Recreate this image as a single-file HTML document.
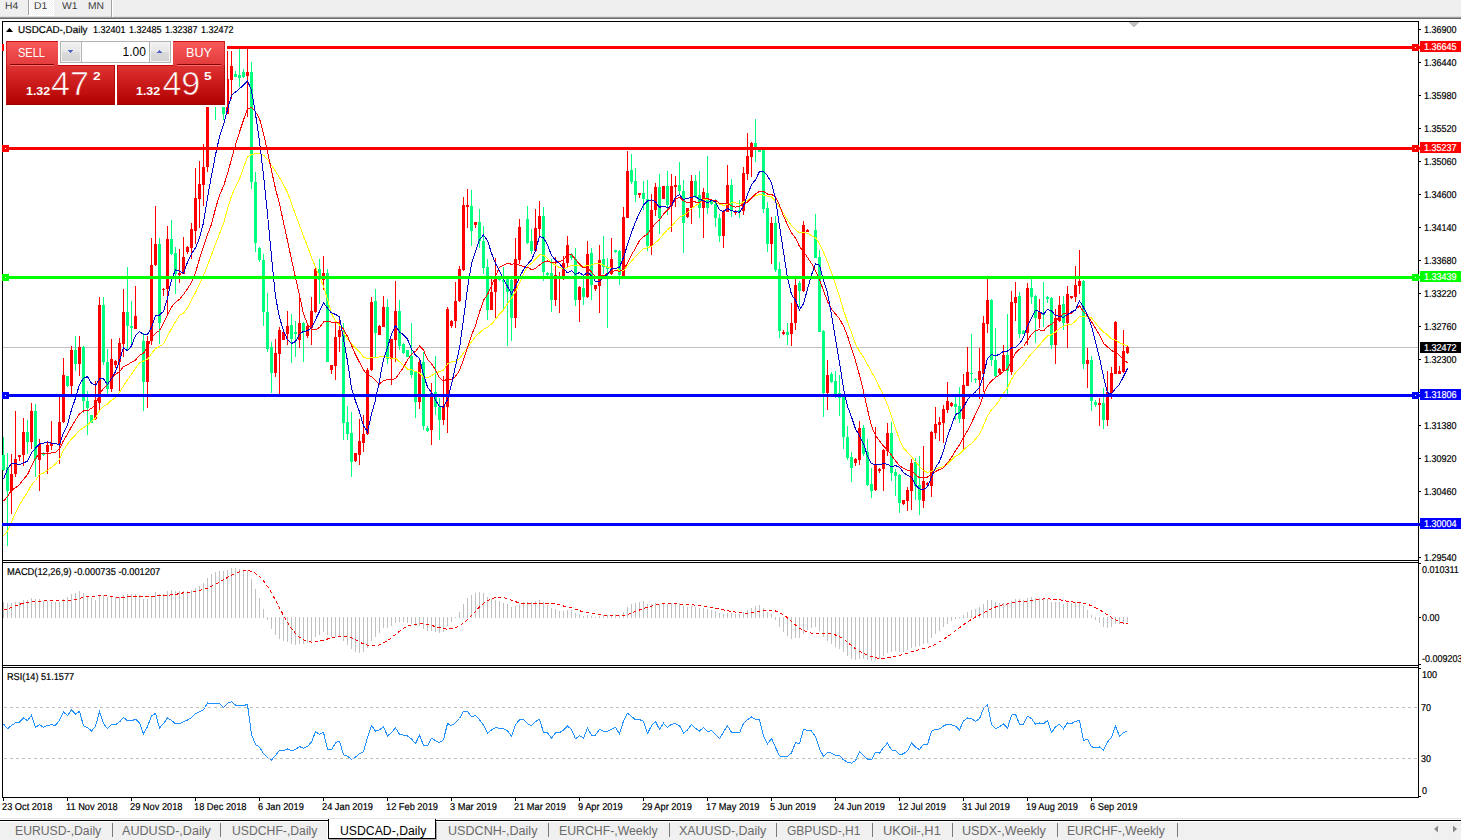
<!DOCTYPE html><html><head><meta charset="utf-8"><title>USDCAD</title><style>
*{box-sizing:border-box;margin:0;padding:0}
html,body{width:1461px;height:840px;overflow:hidden;background:#fff;font-family:"Liberation Sans",sans-serif;}
.abs{position:absolute}
.t{position:absolute;white-space:nowrap;line-height:1;color:#000}
.k{-webkit-text-stroke:0.2px currentColor;text-rendering:geometricPrecision}
</style></head><body><div class="abs" style="left:0;top:0;width:1461px;height:840px;overflow:hidden">
<div class="abs" style="left:0;top:0;width:1461px;height:17px;background:#efefef"></div>
<div class="abs" style="left:0;top:17px;width:1461px;height:1px;background:#9c9c9c"></div>
<div class="abs" style="left:0;top:18px;width:1461px;height:1px;background:#6a6a6a"></div>
<div class="abs" style="left:30px;top:0;width:23px;height:15px;background:repeating-conic-gradient(#ffffff 0% 25%,#f0f0f0 0% 50%) 0 0/2px 2px"></div>
<div class="abs" style="left:53px;top:0;width:1px;height:16px;background:#fff"></div>
<div class="abs" style="left:28px;top:15px;width:26px;height:1px;background:#fff"></div>
<div class="abs" style="left:0;top:16px;width:1461px;height:1px;background:#dedede"></div>
<div class="abs" style="left:28px;top:0;width:1px;height:15px;background:#a0a0a0"></div>
<div class="abs" style="left:29px;top:0;width:1px;height:15px;background:#fff"></div>
<div class="abs" style="left:111px;top:0;width:1px;height:17px;background:#a0a0a0"></div>
<div class="abs" style="left:112px;top:0;width:1px;height:17px;background:#fff"></div>
<div class="t" style="left:5.0px;top:2px;font-size:10px;color:#3c3c3c;text-rendering:geometricPrecision;transform:scaleX(1.03);transform-origin:0 0">H4</div>
<div class="t" style="left:34.0px;top:2px;font-size:10px;color:#3c3c3c;text-rendering:geometricPrecision;transform:scaleX(1.03);transform-origin:0 0">D1</div>
<div class="t" style="left:62.0px;top:2px;font-size:10px;color:#3c3c3c;text-rendering:geometricPrecision;transform:scaleX(1.03);transform-origin:0 0">W1</div>
<div class="t" style="left:88.0px;top:2px;font-size:10px;color:#3c3c3c;text-rendering:geometricPrecision;transform:scaleX(1.03);transform-origin:0 0">MN</div>
<svg class="abs" style="left:0;top:0" width="1461" height="840" viewBox="0 0 1461 840" shape-rendering="crispEdges">
<rect x="2" y="21" width="1417" height="1" fill="#000"/>
<rect x="2" y="21" width="1" height="777" fill="#000"/>
<rect x="1418" y="21" width="1" height="777" fill="#000"/>
<rect x="2" y="797" width="1417" height="1" fill="#000"/>
<rect x="2" y="560" width="1417" height="1" fill="#000"/>
<rect x="2" y="562" width="1417" height="1" fill="#000"/>
<rect x="3" y="561" width="1415" height="1" fill="#fff"/>
<rect x="2" y="665" width="1417" height="1" fill="#000"/>
<rect x="2" y="667" width="1417" height="1" fill="#000"/>
<rect x="3" y="666" width="1415" height="1" fill="#fff"/>
<rect x="3" y="347" width="1415" height="1" fill="#c0c0c0"/>
<rect x="3" y="437" width="1" height="34" fill="#00ff7f"/>
<rect x="2" y="455" width="3" height="15" fill="#00ff7f"/>
<rect x="7" y="453" width="1" height="93" fill="#00ff7f"/>
<rect x="6" y="467" width="3" height="24" fill="#00ff7f"/>
<rect x="11" y="454" width="1" height="60" fill="#ff0000"/>
<rect x="10" y="474" width="3" height="17" fill="#ff0000"/>
<rect x="15" y="411" width="1" height="66" fill="#ff0000"/>
<rect x="14" y="459" width="3" height="15" fill="#ff0000"/>
<rect x="19" y="455" width="1" height="6" fill="#ff0000"/>
<rect x="18" y="455" width="3" height="2" fill="#ff0000"/>
<rect x="23" y="418" width="1" height="48" fill="#ff0000"/>
<rect x="22" y="432" width="3" height="23" fill="#ff0000"/>
<rect x="27" y="420" width="1" height="34" fill="#00ff7f"/>
<rect x="26" y="432" width="3" height="10" fill="#00ff7f"/>
<rect x="31" y="403" width="1" height="46" fill="#ff0000"/>
<rect x="30" y="411" width="3" height="31" fill="#ff0000"/>
<rect x="35" y="404" width="1" height="73" fill="#00ff7f"/>
<rect x="34" y="411" width="3" height="48" fill="#00ff7f"/>
<rect x="39" y="439" width="1" height="52" fill="#ff0000"/>
<rect x="38" y="444" width="3" height="16" fill="#ff0000"/>
<rect x="43" y="452" width="1" height="4" fill="#00ff7f"/>
<rect x="42" y="453" width="3" height="2" fill="#00ff7f"/>
<rect x="47" y="442" width="1" height="32" fill="#ff0000"/>
<rect x="46" y="445" width="3" height="7" fill="#ff0000"/>
<rect x="51" y="421" width="1" height="29" fill="#ff0000"/>
<rect x="50" y="443" width="3" height="3" fill="#ff0000"/>
<rect x="59" y="397" width="1" height="67" fill="#ff0000"/>
<rect x="58" y="422" width="3" height="23" fill="#ff0000"/>
<rect x="63" y="358" width="1" height="65" fill="#ff0000"/>
<rect x="62" y="375" width="3" height="47" fill="#ff0000"/>
<rect x="67" y="376" width="1" height="11" fill="#00ff7f"/>
<rect x="66" y="376" width="3" height="10" fill="#00ff7f"/>
<rect x="71" y="346" width="1" height="49" fill="#ff0000"/>
<rect x="70" y="350" width="3" height="36" fill="#ff0000"/>
<rect x="75" y="336" width="1" height="35" fill="#00ff7f"/>
<rect x="74" y="350" width="3" height="14" fill="#00ff7f"/>
<rect x="79" y="336" width="1" height="40" fill="#ff0000"/>
<rect x="78" y="347" width="3" height="17" fill="#ff0000"/>
<rect x="83" y="346" width="1" height="67" fill="#00ff7f"/>
<rect x="82" y="347" width="3" height="54" fill="#00ff7f"/>
<rect x="87" y="391" width="1" height="44" fill="#00ff7f"/>
<rect x="86" y="401" width="3" height="7" fill="#00ff7f"/>
<rect x="91" y="415" width="1" height="8" fill="#00ff7f"/>
<rect x="90" y="415" width="3" height="8" fill="#00ff7f"/>
<rect x="95" y="381" width="1" height="39" fill="#ff0000"/>
<rect x="94" y="400" width="3" height="19" fill="#ff0000"/>
<rect x="99" y="297" width="1" height="115" fill="#ff0000"/>
<rect x="98" y="305" width="3" height="98" fill="#ff0000"/>
<rect x="103" y="297" width="1" height="68" fill="#00ff7f"/>
<rect x="102" y="305" width="3" height="57" fill="#00ff7f"/>
<rect x="107" y="349" width="1" height="46" fill="#00ff7f"/>
<rect x="106" y="362" width="3" height="27" fill="#00ff7f"/>
<rect x="111" y="339" width="1" height="53" fill="#ff0000"/>
<rect x="110" y="359" width="3" height="30" fill="#ff0000"/>
<rect x="115" y="360" width="1" height="8" fill="#ff0000"/>
<rect x="114" y="361" width="3" height="4" fill="#ff0000"/>
<rect x="119" y="338" width="1" height="53" fill="#ff0000"/>
<rect x="118" y="343" width="3" height="19" fill="#ff0000"/>
<rect x="123" y="289" width="1" height="68" fill="#ff0000"/>
<rect x="122" y="312" width="3" height="32" fill="#ff0000"/>
<rect x="127" y="267" width="1" height="84" fill="#00ff7f"/>
<rect x="126" y="312" width="3" height="14" fill="#00ff7f"/>
<rect x="131" y="301" width="1" height="43" fill="#00ff7f"/>
<rect x="130" y="326" width="3" height="2" fill="#00ff7f"/>
<rect x="135" y="286" width="1" height="43" fill="#ff0000"/>
<rect x="134" y="316" width="3" height="13" fill="#ff0000"/>
<rect x="143" y="333" width="1" height="78" fill="#00ff7f"/>
<rect x="142" y="341" width="3" height="41" fill="#00ff7f"/>
<rect x="147" y="336" width="1" height="72" fill="#ff0000"/>
<rect x="146" y="341" width="3" height="41" fill="#ff0000"/>
<rect x="151" y="238" width="1" height="107" fill="#ff0000"/>
<rect x="150" y="265" width="3" height="76" fill="#ff0000"/>
<rect x="155" y="206" width="1" height="60" fill="#ff0000"/>
<rect x="154" y="244" width="3" height="21" fill="#ff0000"/>
<rect x="159" y="238" width="1" height="106" fill="#00ff7f"/>
<rect x="158" y="244" width="3" height="79" fill="#00ff7f"/>
<rect x="163" y="288" width="1" height="8" fill="#ff0000"/>
<rect x="162" y="289" width="3" height="1" fill="#ff0000"/>
<rect x="167" y="226" width="1" height="88" fill="#ff0000"/>
<rect x="166" y="239" width="3" height="50" fill="#ff0000"/>
<rect x="171" y="220" width="1" height="35" fill="#00ff7f"/>
<rect x="170" y="239" width="3" height="15" fill="#00ff7f"/>
<rect x="175" y="247" width="1" height="47" fill="#00ff7f"/>
<rect x="174" y="253" width="3" height="21" fill="#00ff7f"/>
<rect x="179" y="249" width="1" height="34" fill="#ff0000"/>
<rect x="178" y="273" width="3" height="2" fill="#ff0000"/>
<rect x="183" y="237" width="1" height="37" fill="#ff0000"/>
<rect x="182" y="257" width="3" height="17" fill="#ff0000"/>
<rect x="187" y="246" width="1" height="8" fill="#ff0000"/>
<rect x="186" y="247" width="3" height="5" fill="#ff0000"/>
<rect x="191" y="223" width="1" height="36" fill="#ff0000"/>
<rect x="190" y="229" width="3" height="19" fill="#ff0000"/>
<rect x="195" y="168" width="1" height="76" fill="#ff0000"/>
<rect x="194" y="198" width="3" height="33" fill="#ff0000"/>
<rect x="199" y="161" width="1" height="67" fill="#ff0000"/>
<rect x="198" y="184" width="3" height="15" fill="#ff0000"/>
<rect x="203" y="144" width="1" height="62" fill="#ff0000"/>
<rect x="202" y="167" width="3" height="18" fill="#ff0000"/>
<rect x="207" y="96" width="1" height="76" fill="#ff0000"/>
<rect x="206" y="100" width="3" height="67" fill="#ff0000"/>
<rect x="211" y="97" width="1" height="7" fill="#ff0000"/>
<rect x="210" y="100" width="3" height="2" fill="#ff0000"/>
<rect x="215" y="97" width="1" height="23" fill="#00ff7f"/>
<rect x="214" y="100" width="3" height="2" fill="#00ff7f"/>
<rect x="219" y="98" width="1" height="6" fill="#00ff7f"/>
<rect x="218" y="100" width="3" height="1" fill="#00ff7f"/>
<rect x="223" y="98" width="1" height="22" fill="#00ff7f"/>
<rect x="222" y="101" width="3" height="13" fill="#00ff7f"/>
<rect x="227" y="51" width="1" height="63" fill="#ff0000"/>
<rect x="226" y="79" width="3" height="35" fill="#ff0000"/>
<rect x="231" y="51" width="1" height="48" fill="#ff0000"/>
<rect x="230" y="66" width="3" height="14" fill="#ff0000"/>
<rect x="235" y="71" width="1" height="6" fill="#00ff7f"/>
<rect x="234" y="74" width="3" height="3" fill="#00ff7f"/>
<rect x="239" y="49" width="1" height="38" fill="#00ff7f"/>
<rect x="238" y="75" width="3" height="3" fill="#00ff7f"/>
<rect x="243" y="69" width="1" height="9" fill="#00ff7f"/>
<rect x="242" y="72" width="3" height="5" fill="#00ff7f"/>
<rect x="247" y="49" width="1" height="68" fill="#ff0000"/>
<rect x="246" y="72" width="3" height="4" fill="#ff0000"/>
<rect x="251" y="62" width="1" height="127" fill="#00ff7f"/>
<rect x="250" y="72" width="3" height="110" fill="#00ff7f"/>
<rect x="255" y="172" width="1" height="80" fill="#00ff7f"/>
<rect x="254" y="182" width="3" height="61" fill="#00ff7f"/>
<rect x="259" y="247" width="1" height="15" fill="#00ff7f"/>
<rect x="258" y="248" width="3" height="12" fill="#00ff7f"/>
<rect x="263" y="254" width="1" height="72" fill="#00ff7f"/>
<rect x="262" y="260" width="3" height="52" fill="#00ff7f"/>
<rect x="267" y="293" width="1" height="59" fill="#00ff7f"/>
<rect x="266" y="312" width="3" height="37" fill="#00ff7f"/>
<rect x="271" y="342" width="1" height="51" fill="#00ff7f"/>
<rect x="270" y="347" width="3" height="26" fill="#00ff7f"/>
<rect x="275" y="339" width="1" height="38" fill="#ff0000"/>
<rect x="274" y="353" width="3" height="20" fill="#ff0000"/>
<rect x="279" y="327" width="1" height="67" fill="#ff0000"/>
<rect x="278" y="330" width="3" height="24" fill="#ff0000"/>
<rect x="283" y="332" width="1" height="8" fill="#ff0000"/>
<rect x="282" y="332" width="3" height="8" fill="#ff0000"/>
<rect x="287" y="311" width="1" height="34" fill="#ff0000"/>
<rect x="286" y="326" width="3" height="8" fill="#ff0000"/>
<rect x="291" y="314" width="1" height="49" fill="#00ff7f"/>
<rect x="290" y="325" width="3" height="14" fill="#00ff7f"/>
<rect x="295" y="321" width="1" height="36" fill="#00ff7f"/>
<rect x="294" y="332" width="3" height="2" fill="#00ff7f"/>
<rect x="299" y="298" width="1" height="50" fill="#ff0000"/>
<rect x="298" y="323" width="3" height="17" fill="#ff0000"/>
<rect x="303" y="322" width="1" height="40" fill="#00ff7f"/>
<rect x="302" y="323" width="3" height="9" fill="#00ff7f"/>
<rect x="307" y="325" width="1" height="13" fill="#ff0000"/>
<rect x="306" y="326" width="3" height="10" fill="#ff0000"/>
<rect x="311" y="297" width="1" height="48" fill="#ff0000"/>
<rect x="310" y="311" width="3" height="17" fill="#ff0000"/>
<rect x="315" y="268" width="1" height="45" fill="#ff0000"/>
<rect x="314" y="269" width="3" height="43" fill="#ff0000"/>
<rect x="319" y="259" width="1" height="45" fill="#00ff7f"/>
<rect x="318" y="269" width="3" height="11" fill="#00ff7f"/>
<rect x="323" y="256" width="1" height="34" fill="#ff0000"/>
<rect x="322" y="273" width="3" height="7" fill="#ff0000"/>
<rect x="327" y="269" width="1" height="93" fill="#00ff7f"/>
<rect x="326" y="273" width="3" height="89" fill="#00ff7f"/>
<rect x="331" y="365" width="1" height="9" fill="#ff0000"/>
<rect x="330" y="365" width="3" height="5" fill="#ff0000"/>
<rect x="335" y="322" width="1" height="58" fill="#ff0000"/>
<rect x="334" y="337" width="3" height="29" fill="#ff0000"/>
<rect x="339" y="320" width="1" height="32" fill="#ff0000"/>
<rect x="338" y="330" width="3" height="7" fill="#ff0000"/>
<rect x="343" y="323" width="1" height="117" fill="#00ff7f"/>
<rect x="342" y="330" width="3" height="93" fill="#00ff7f"/>
<rect x="347" y="406" width="1" height="34" fill="#00ff7f"/>
<rect x="346" y="422" width="3" height="12" fill="#00ff7f"/>
<rect x="351" y="412" width="1" height="65" fill="#00ff7f"/>
<rect x="350" y="433" width="3" height="29" fill="#00ff7f"/>
<rect x="355" y="453" width="1" height="9" fill="#ff0000"/>
<rect x="354" y="453" width="3" height="8" fill="#ff0000"/>
<rect x="359" y="419" width="1" height="46" fill="#ff0000"/>
<rect x="358" y="441" width="3" height="14" fill="#ff0000"/>
<rect x="363" y="415" width="1" height="37" fill="#ff0000"/>
<rect x="362" y="434" width="3" height="9" fill="#ff0000"/>
<rect x="367" y="368" width="1" height="67" fill="#ff0000"/>
<rect x="366" y="370" width="3" height="64" fill="#ff0000"/>
<rect x="371" y="297" width="1" height="74" fill="#ff0000"/>
<rect x="370" y="302" width="3" height="68" fill="#ff0000"/>
<rect x="375" y="289" width="1" height="68" fill="#00ff7f"/>
<rect x="374" y="301" width="3" height="32" fill="#00ff7f"/>
<rect x="379" y="325" width="1" height="10" fill="#ff0000"/>
<rect x="378" y="326" width="3" height="9" fill="#ff0000"/>
<rect x="383" y="296" width="1" height="31" fill="#ff0000"/>
<rect x="382" y="307" width="3" height="20" fill="#ff0000"/>
<rect x="387" y="299" width="1" height="65" fill="#00ff7f"/>
<rect x="386" y="307" width="3" height="52" fill="#00ff7f"/>
<rect x="391" y="339" width="1" height="46" fill="#ff0000"/>
<rect x="390" y="339" width="3" height="20" fill="#ff0000"/>
<rect x="395" y="281" width="1" height="81" fill="#ff0000"/>
<rect x="394" y="311" width="3" height="29" fill="#ff0000"/>
<rect x="399" y="300" width="1" height="50" fill="#00ff7f"/>
<rect x="398" y="311" width="3" height="35" fill="#00ff7f"/>
<rect x="403" y="343" width="1" height="11" fill="#00ff7f"/>
<rect x="402" y="344" width="3" height="9" fill="#00ff7f"/>
<rect x="407" y="350" width="1" height="7" fill="#00ff7f"/>
<rect x="406" y="350" width="3" height="7" fill="#00ff7f"/>
<rect x="411" y="323" width="1" height="55" fill="#00ff7f"/>
<rect x="410" y="356" width="3" height="19" fill="#00ff7f"/>
<rect x="415" y="372" width="1" height="46" fill="#00ff7f"/>
<rect x="414" y="372" width="3" height="30" fill="#00ff7f"/>
<rect x="419" y="358" width="1" height="51" fill="#ff0000"/>
<rect x="418" y="362" width="3" height="40" fill="#ff0000"/>
<rect x="423" y="352" width="1" height="78" fill="#00ff7f"/>
<rect x="422" y="362" width="3" height="64" fill="#00ff7f"/>
<rect x="427" y="426" width="1" height="6" fill="#00ff7f"/>
<rect x="426" y="428" width="3" height="3" fill="#00ff7f"/>
<rect x="431" y="383" width="1" height="62" fill="#ff0000"/>
<rect x="430" y="393" width="3" height="37" fill="#ff0000"/>
<rect x="435" y="356" width="1" height="59" fill="#00ff7f"/>
<rect x="434" y="392" width="3" height="15" fill="#00ff7f"/>
<rect x="439" y="398" width="1" height="42" fill="#00ff7f"/>
<rect x="438" y="407" width="3" height="13" fill="#00ff7f"/>
<rect x="443" y="376" width="1" height="49" fill="#ff0000"/>
<rect x="442" y="406" width="3" height="14" fill="#ff0000"/>
<rect x="447" y="307" width="1" height="126" fill="#ff0000"/>
<rect x="446" y="309" width="3" height="98" fill="#ff0000"/>
<rect x="451" y="320" width="1" height="8" fill="#ff0000"/>
<rect x="450" y="321" width="3" height="5" fill="#ff0000"/>
<rect x="455" y="282" width="1" height="46" fill="#ff0000"/>
<rect x="454" y="301" width="3" height="20" fill="#ff0000"/>
<rect x="459" y="266" width="1" height="36" fill="#ff0000"/>
<rect x="458" y="269" width="3" height="32" fill="#ff0000"/>
<rect x="463" y="197" width="1" height="74" fill="#ff0000"/>
<rect x="462" y="205" width="3" height="65" fill="#ff0000"/>
<rect x="467" y="189" width="1" height="39" fill="#ff0000"/>
<rect x="466" y="205" width="3" height="2" fill="#ff0000"/>
<rect x="471" y="190" width="1" height="56" fill="#00ff7f"/>
<rect x="470" y="206" width="3" height="25" fill="#00ff7f"/>
<rect x="475" y="222" width="1" height="6" fill="#ff0000"/>
<rect x="474" y="222" width="3" height="3" fill="#ff0000"/>
<rect x="479" y="209" width="1" height="39" fill="#00ff7f"/>
<rect x="478" y="222" width="3" height="19" fill="#00ff7f"/>
<rect x="483" y="226" width="1" height="48" fill="#00ff7f"/>
<rect x="482" y="241" width="3" height="27" fill="#00ff7f"/>
<rect x="487" y="259" width="1" height="61" fill="#00ff7f"/>
<rect x="486" y="267" width="3" height="43" fill="#00ff7f"/>
<rect x="491" y="277" width="1" height="33" fill="#ff0000"/>
<rect x="490" y="292" width="3" height="18" fill="#ff0000"/>
<rect x="495" y="258" width="1" height="60" fill="#ff0000"/>
<rect x="494" y="278" width="3" height="14" fill="#ff0000"/>
<rect x="499" y="278" width="1" height="3" fill="#00ff7f"/>
<rect x="498" y="278" width="3" height="2" fill="#00ff7f"/>
<rect x="503" y="267" width="1" height="42" fill="#00ff7f"/>
<rect x="502" y="280" width="3" height="2" fill="#00ff7f"/>
<rect x="507" y="278" width="1" height="68" fill="#00ff7f"/>
<rect x="506" y="278" width="3" height="14" fill="#00ff7f"/>
<rect x="511" y="279" width="1" height="62" fill="#00ff7f"/>
<rect x="510" y="280" width="3" height="38" fill="#00ff7f"/>
<rect x="515" y="238" width="1" height="90" fill="#ff0000"/>
<rect x="514" y="259" width="3" height="59" fill="#ff0000"/>
<rect x="519" y="219" width="1" height="45" fill="#ff0000"/>
<rect x="518" y="227" width="3" height="33" fill="#ff0000"/>
<rect x="527" y="206" width="1" height="38" fill="#00ff7f"/>
<rect x="526" y="219" width="3" height="24" fill="#00ff7f"/>
<rect x="531" y="229" width="1" height="25" fill="#00ff7f"/>
<rect x="530" y="241" width="3" height="10" fill="#00ff7f"/>
<rect x="535" y="209" width="1" height="43" fill="#ff0000"/>
<rect x="534" y="228" width="3" height="23" fill="#ff0000"/>
<rect x="539" y="201" width="1" height="35" fill="#ff0000"/>
<rect x="538" y="216" width="3" height="13" fill="#ff0000"/>
<rect x="543" y="207" width="1" height="74" fill="#00ff7f"/>
<rect x="542" y="216" width="3" height="56" fill="#00ff7f"/>
<rect x="547" y="272" width="1" height="4" fill="#00ff7f"/>
<rect x="546" y="273" width="3" height="2" fill="#00ff7f"/>
<rect x="551" y="259" width="1" height="53" fill="#00ff7f"/>
<rect x="550" y="273" width="3" height="27" fill="#00ff7f"/>
<rect x="555" y="257" width="1" height="49" fill="#ff0000"/>
<rect x="554" y="275" width="3" height="25" fill="#ff0000"/>
<rect x="559" y="272" width="1" height="41" fill="#ff0000"/>
<rect x="558" y="276" width="3" height="2" fill="#ff0000"/>
<rect x="563" y="256" width="1" height="24" fill="#ff0000"/>
<rect x="562" y="263" width="3" height="14" fill="#ff0000"/>
<rect x="567" y="236" width="1" height="31" fill="#ff0000"/>
<rect x="566" y="245" width="3" height="18" fill="#ff0000"/>
<rect x="571" y="253" width="1" height="7" fill="#00ff7f"/>
<rect x="570" y="254" width="3" height="4" fill="#00ff7f"/>
<rect x="575" y="248" width="1" height="58" fill="#00ff7f"/>
<rect x="574" y="259" width="3" height="41" fill="#00ff7f"/>
<rect x="579" y="286" width="1" height="36" fill="#ff0000"/>
<rect x="578" y="287" width="3" height="13" fill="#ff0000"/>
<rect x="583" y="276" width="1" height="29" fill="#00ff7f"/>
<rect x="582" y="288" width="3" height="9" fill="#00ff7f"/>
<rect x="587" y="241" width="1" height="57" fill="#ff0000"/>
<rect x="586" y="254" width="3" height="43" fill="#ff0000"/>
<rect x="591" y="248" width="1" height="52" fill="#00ff7f"/>
<rect x="590" y="253" width="3" height="32" fill="#00ff7f"/>
<rect x="595" y="285" width="1" height="6" fill="#ff0000"/>
<rect x="594" y="285" width="3" height="4" fill="#ff0000"/>
<rect x="599" y="245" width="1" height="68" fill="#ff0000"/>
<rect x="598" y="260" width="3" height="26" fill="#ff0000"/>
<rect x="603" y="236" width="1" height="38" fill="#00ff7f"/>
<rect x="602" y="259" width="3" height="8" fill="#00ff7f"/>
<rect x="607" y="258" width="1" height="70" fill="#00ff7f"/>
<rect x="606" y="267" width="3" height="2" fill="#00ff7f"/>
<rect x="611" y="238" width="1" height="37" fill="#ff0000"/>
<rect x="610" y="259" width="3" height="15" fill="#ff0000"/>
<rect x="615" y="250" width="1" height="3" fill="#00ff7f"/>
<rect x="614" y="250" width="3" height="2" fill="#00ff7f"/>
<rect x="619" y="250" width="1" height="35" fill="#00ff7f"/>
<rect x="618" y="251" width="3" height="24" fill="#00ff7f"/>
<rect x="623" y="207" width="1" height="70" fill="#ff0000"/>
<rect x="622" y="217" width="3" height="59" fill="#ff0000"/>
<rect x="627" y="151" width="1" height="67" fill="#ff0000"/>
<rect x="626" y="171" width="3" height="47" fill="#ff0000"/>
<rect x="631" y="154" width="1" height="30" fill="#00ff7f"/>
<rect x="630" y="170" width="3" height="12" fill="#00ff7f"/>
<rect x="635" y="168" width="1" height="34" fill="#00ff7f"/>
<rect x="634" y="181" width="3" height="14" fill="#00ff7f"/>
<rect x="639" y="193" width="1" height="5" fill="#ff0000"/>
<rect x="638" y="193" width="3" height="2" fill="#ff0000"/>
<rect x="643" y="181" width="1" height="29" fill="#00ff7f"/>
<rect x="642" y="193" width="3" height="6" fill="#00ff7f"/>
<rect x="647" y="180" width="1" height="71" fill="#00ff7f"/>
<rect x="646" y="199" width="3" height="47" fill="#00ff7f"/>
<rect x="651" y="194" width="1" height="61" fill="#ff0000"/>
<rect x="650" y="210" width="3" height="36" fill="#ff0000"/>
<rect x="655" y="183" width="1" height="33" fill="#ff0000"/>
<rect x="654" y="187" width="3" height="23" fill="#ff0000"/>
<rect x="659" y="174" width="1" height="60" fill="#00ff7f"/>
<rect x="658" y="187" width="3" height="31" fill="#00ff7f"/>
<rect x="663" y="186" width="1" height="13" fill="#ff0000"/>
<rect x="662" y="186" width="3" height="13" fill="#ff0000"/>
<rect x="667" y="171" width="1" height="44" fill="#00ff7f"/>
<rect x="666" y="186" width="3" height="19" fill="#00ff7f"/>
<rect x="671" y="174" width="1" height="58" fill="#ff0000"/>
<rect x="670" y="186" width="3" height="20" fill="#ff0000"/>
<rect x="675" y="176" width="1" height="31" fill="#ff0000"/>
<rect x="674" y="185" width="3" height="2" fill="#ff0000"/>
<rect x="679" y="162" width="1" height="32" fill="#00ff7f"/>
<rect x="678" y="185" width="3" height="6" fill="#00ff7f"/>
<rect x="683" y="180" width="1" height="73" fill="#00ff7f"/>
<rect x="682" y="191" width="3" height="32" fill="#00ff7f"/>
<rect x="687" y="208" width="1" height="10" fill="#ff0000"/>
<rect x="686" y="208" width="3" height="9" fill="#ff0000"/>
<rect x="691" y="175" width="1" height="49" fill="#ff0000"/>
<rect x="690" y="181" width="3" height="27" fill="#ff0000"/>
<rect x="695" y="175" width="1" height="23" fill="#00ff7f"/>
<rect x="694" y="181" width="3" height="16" fill="#00ff7f"/>
<rect x="699" y="171" width="1" height="47" fill="#00ff7f"/>
<rect x="698" y="195" width="3" height="13" fill="#00ff7f"/>
<rect x="703" y="188" width="1" height="50" fill="#ff0000"/>
<rect x="702" y="192" width="3" height="16" fill="#ff0000"/>
<rect x="707" y="156" width="1" height="58" fill="#00ff7f"/>
<rect x="706" y="193" width="3" height="15" fill="#00ff7f"/>
<rect x="711" y="199" width="1" height="6" fill="#00ff7f"/>
<rect x="710" y="200" width="3" height="4" fill="#00ff7f"/>
<rect x="715" y="199" width="1" height="28" fill="#00ff7f"/>
<rect x="714" y="204" width="3" height="14" fill="#00ff7f"/>
<rect x="719" y="214" width="1" height="28" fill="#00ff7f"/>
<rect x="718" y="218" width="3" height="18" fill="#00ff7f"/>
<rect x="723" y="210" width="1" height="38" fill="#ff0000"/>
<rect x="722" y="211" width="3" height="25" fill="#ff0000"/>
<rect x="727" y="165" width="1" height="47" fill="#ff0000"/>
<rect x="726" y="185" width="3" height="27" fill="#ff0000"/>
<rect x="731" y="179" width="1" height="38" fill="#00ff7f"/>
<rect x="730" y="185" width="3" height="25" fill="#00ff7f"/>
<rect x="735" y="210" width="1" height="5" fill="#ff0000"/>
<rect x="734" y="211" width="3" height="2" fill="#ff0000"/>
<rect x="739" y="200" width="1" height="18" fill="#00ff7f"/>
<rect x="738" y="210" width="3" height="2" fill="#00ff7f"/>
<rect x="743" y="167" width="1" height="48" fill="#ff0000"/>
<rect x="742" y="173" width="3" height="38" fill="#ff0000"/>
<rect x="747" y="133" width="1" height="47" fill="#ff0000"/>
<rect x="746" y="156" width="3" height="18" fill="#ff0000"/>
<rect x="751" y="142" width="1" height="35" fill="#ff0000"/>
<rect x="750" y="143" width="3" height="14" fill="#ff0000"/>
<rect x="755" y="119" width="1" height="43" fill="#00ff7f"/>
<rect x="754" y="143" width="3" height="7" fill="#00ff7f"/>
<rect x="759" y="149" width="1" height="3" fill="#00ff7f"/>
<rect x="758" y="150" width="3" height="2" fill="#00ff7f"/>
<rect x="763" y="150" width="1" height="63" fill="#00ff7f"/>
<rect x="762" y="150" width="3" height="59" fill="#00ff7f"/>
<rect x="767" y="202" width="1" height="50" fill="#00ff7f"/>
<rect x="766" y="208" width="3" height="36" fill="#00ff7f"/>
<rect x="771" y="217" width="1" height="47" fill="#ff0000"/>
<rect x="770" y="223" width="3" height="21" fill="#ff0000"/>
<rect x="775" y="216" width="1" height="56" fill="#00ff7f"/>
<rect x="774" y="223" width="3" height="47" fill="#00ff7f"/>
<rect x="779" y="262" width="1" height="76" fill="#00ff7f"/>
<rect x="778" y="269" width="3" height="62" fill="#00ff7f"/>
<rect x="783" y="330" width="1" height="5" fill="#ff0000"/>
<rect x="782" y="332" width="3" height="2" fill="#ff0000"/>
<rect x="787" y="323" width="1" height="22" fill="#00ff7f"/>
<rect x="786" y="332" width="3" height="3" fill="#00ff7f"/>
<rect x="791" y="303" width="1" height="43" fill="#ff0000"/>
<rect x="790" y="323" width="3" height="11" fill="#ff0000"/>
<rect x="795" y="279" width="1" height="51" fill="#ff0000"/>
<rect x="794" y="285" width="3" height="38" fill="#ff0000"/>
<rect x="799" y="281" width="1" height="26" fill="#00ff7f"/>
<rect x="798" y="283" width="3" height="8" fill="#00ff7f"/>
<rect x="803" y="221" width="1" height="71" fill="#ff0000"/>
<rect x="802" y="225" width="3" height="66" fill="#ff0000"/>
<rect x="807" y="229" width="1" height="3" fill="#ff0000"/>
<rect x="806" y="230" width="3" height="2" fill="#ff0000"/>
<rect x="815" y="214" width="1" height="44" fill="#00ff7f"/>
<rect x="814" y="230" width="3" height="28" fill="#00ff7f"/>
<rect x="819" y="250" width="1" height="82" fill="#00ff7f"/>
<rect x="818" y="257" width="3" height="75" fill="#00ff7f"/>
<rect x="823" y="330" width="1" height="87" fill="#00ff7f"/>
<rect x="822" y="331" width="3" height="62" fill="#00ff7f"/>
<rect x="827" y="360" width="1" height="50" fill="#ff0000"/>
<rect x="826" y="375" width="3" height="18" fill="#ff0000"/>
<rect x="831" y="372" width="1" height="11" fill="#00ff7f"/>
<rect x="830" y="374" width="3" height="8" fill="#00ff7f"/>
<rect x="835" y="371" width="1" height="27" fill="#00ff7f"/>
<rect x="834" y="381" width="3" height="16" fill="#00ff7f"/>
<rect x="839" y="375" width="1" height="41" fill="#00ff7f"/>
<rect x="838" y="393" width="3" height="5" fill="#00ff7f"/>
<rect x="843" y="394" width="1" height="55" fill="#00ff7f"/>
<rect x="842" y="395" width="3" height="42" fill="#00ff7f"/>
<rect x="847" y="426" width="1" height="34" fill="#00ff7f"/>
<rect x="846" y="437" width="3" height="21" fill="#00ff7f"/>
<rect x="851" y="452" width="1" height="30" fill="#00ff7f"/>
<rect x="850" y="457" width="3" height="11" fill="#00ff7f"/>
<rect x="855" y="458" width="1" height="8" fill="#ff0000"/>
<rect x="854" y="459" width="3" height="4" fill="#ff0000"/>
<rect x="859" y="421" width="1" height="44" fill="#ff0000"/>
<rect x="858" y="428" width="3" height="32" fill="#ff0000"/>
<rect x="863" y="425" width="1" height="31" fill="#00ff7f"/>
<rect x="862" y="428" width="3" height="26" fill="#00ff7f"/>
<rect x="867" y="439" width="1" height="47" fill="#00ff7f"/>
<rect x="866" y="452" width="3" height="33" fill="#00ff7f"/>
<rect x="871" y="468" width="1" height="30" fill="#00ff7f"/>
<rect x="870" y="484" width="3" height="7" fill="#00ff7f"/>
<rect x="875" y="427" width="1" height="64" fill="#ff0000"/>
<rect x="874" y="464" width="3" height="26" fill="#ff0000"/>
<rect x="879" y="468" width="1" height="5" fill="#ff0000"/>
<rect x="878" y="469" width="3" height="2" fill="#ff0000"/>
<rect x="883" y="449" width="1" height="42" fill="#ff0000"/>
<rect x="882" y="450" width="3" height="19" fill="#ff0000"/>
<rect x="887" y="423" width="1" height="33" fill="#ff0000"/>
<rect x="886" y="433" width="3" height="18" fill="#ff0000"/>
<rect x="891" y="422" width="1" height="59" fill="#00ff7f"/>
<rect x="890" y="433" width="3" height="40" fill="#00ff7f"/>
<rect x="895" y="469" width="1" height="27" fill="#00ff7f"/>
<rect x="894" y="472" width="3" height="4" fill="#00ff7f"/>
<rect x="899" y="474" width="1" height="39" fill="#00ff7f"/>
<rect x="898" y="475" width="3" height="28" fill="#00ff7f"/>
<rect x="903" y="500" width="1" height="5" fill="#ff0000"/>
<rect x="902" y="500" width="3" height="4" fill="#ff0000"/>
<rect x="907" y="487" width="1" height="24" fill="#ff0000"/>
<rect x="906" y="490" width="3" height="11" fill="#ff0000"/>
<rect x="911" y="459" width="1" height="51" fill="#ff0000"/>
<rect x="910" y="463" width="3" height="28" fill="#ff0000"/>
<rect x="915" y="458" width="1" height="42" fill="#00ff7f"/>
<rect x="914" y="462" width="3" height="24" fill="#00ff7f"/>
<rect x="919" y="456" width="1" height="59" fill="#00ff7f"/>
<rect x="918" y="485" width="3" height="15" fill="#00ff7f"/>
<rect x="923" y="446" width="1" height="62" fill="#ff0000"/>
<rect x="922" y="481" width="3" height="20" fill="#ff0000"/>
<rect x="927" y="482" width="1" height="4" fill="#ff0000"/>
<rect x="926" y="483" width="3" height="2" fill="#ff0000"/>
<rect x="931" y="431" width="1" height="66" fill="#ff0000"/>
<rect x="930" y="432" width="3" height="54" fill="#ff0000"/>
<rect x="935" y="407" width="1" height="32" fill="#ff0000"/>
<rect x="934" y="424" width="3" height="9" fill="#ff0000"/>
<rect x="939" y="417" width="1" height="24" fill="#ff0000"/>
<rect x="938" y="422" width="3" height="3" fill="#ff0000"/>
<rect x="943" y="405" width="1" height="38" fill="#ff0000"/>
<rect x="942" y="409" width="3" height="14" fill="#ff0000"/>
<rect x="947" y="382" width="1" height="31" fill="#ff0000"/>
<rect x="946" y="401" width="3" height="9" fill="#ff0000"/>
<rect x="951" y="402" width="1" height="5" fill="#ff0000"/>
<rect x="950" y="403" width="3" height="3" fill="#ff0000"/>
<rect x="955" y="397" width="1" height="23" fill="#00ff7f"/>
<rect x="954" y="404" width="3" height="3" fill="#00ff7f"/>
<rect x="959" y="387" width="1" height="36" fill="#00ff7f"/>
<rect x="958" y="406" width="3" height="13" fill="#00ff7f"/>
<rect x="963" y="374" width="1" height="75" fill="#ff0000"/>
<rect x="962" y="385" width="3" height="34" fill="#ff0000"/>
<rect x="967" y="347" width="1" height="39" fill="#ff0000"/>
<rect x="966" y="372" width="3" height="14" fill="#ff0000"/>
<rect x="971" y="334" width="1" height="48" fill="#00ff7f"/>
<rect x="970" y="373" width="3" height="1" fill="#00ff7f"/>
<rect x="975" y="378" width="1" height="5" fill="#00ff7f"/>
<rect x="974" y="379" width="3" height="1" fill="#00ff7f"/>
<rect x="979" y="348" width="1" height="51" fill="#ff0000"/>
<rect x="978" y="371" width="3" height="9" fill="#ff0000"/>
<rect x="983" y="316" width="1" height="76" fill="#ff0000"/>
<rect x="982" y="323" width="3" height="51" fill="#ff0000"/>
<rect x="987" y="279" width="1" height="54" fill="#ff0000"/>
<rect x="986" y="300" width="3" height="24" fill="#ff0000"/>
<rect x="991" y="299" width="1" height="67" fill="#00ff7f"/>
<rect x="990" y="300" width="3" height="60" fill="#00ff7f"/>
<rect x="995" y="328" width="1" height="49" fill="#00ff7f"/>
<rect x="994" y="360" width="3" height="16" fill="#00ff7f"/>
<rect x="999" y="368" width="1" height="6" fill="#ff0000"/>
<rect x="998" y="369" width="3" height="4" fill="#ff0000"/>
<rect x="1003" y="345" width="1" height="27" fill="#ff0000"/>
<rect x="1002" y="355" width="3" height="16" fill="#ff0000"/>
<rect x="1007" y="314" width="1" height="80" fill="#00ff7f"/>
<rect x="1006" y="355" width="3" height="16" fill="#00ff7f"/>
<rect x="1011" y="291" width="1" height="84" fill="#ff0000"/>
<rect x="1010" y="302" width="3" height="70" fill="#ff0000"/>
<rect x="1015" y="282" width="1" height="39" fill="#ff0000"/>
<rect x="1014" y="297" width="3" height="6" fill="#ff0000"/>
<rect x="1019" y="292" width="1" height="46" fill="#00ff7f"/>
<rect x="1018" y="296" width="3" height="38" fill="#00ff7f"/>
<rect x="1023" y="330" width="1" height="4" fill="#00ff7f"/>
<rect x="1022" y="331" width="3" height="3" fill="#00ff7f"/>
<rect x="1027" y="283" width="1" height="62" fill="#ff0000"/>
<rect x="1026" y="288" width="3" height="45" fill="#ff0000"/>
<rect x="1031" y="279" width="1" height="25" fill="#00ff7f"/>
<rect x="1030" y="288" width="3" height="9" fill="#00ff7f"/>
<rect x="1035" y="295" width="1" height="48" fill="#00ff7f"/>
<rect x="1034" y="296" width="3" height="22" fill="#00ff7f"/>
<rect x="1039" y="299" width="1" height="29" fill="#ff0000"/>
<rect x="1038" y="312" width="3" height="7" fill="#ff0000"/>
<rect x="1043" y="282" width="1" height="45" fill="#00ff7f"/>
<rect x="1042" y="314" width="3" height="1" fill="#00ff7f"/>
<rect x="1047" y="296" width="1" height="7" fill="#00ff7f"/>
<rect x="1046" y="297" width="3" height="2" fill="#00ff7f"/>
<rect x="1051" y="297" width="1" height="52" fill="#00ff7f"/>
<rect x="1050" y="298" width="3" height="47" fill="#00ff7f"/>
<rect x="1055" y="309" width="1" height="55" fill="#ff0000"/>
<rect x="1054" y="318" width="3" height="27" fill="#ff0000"/>
<rect x="1059" y="296" width="1" height="26" fill="#ff0000"/>
<rect x="1058" y="305" width="3" height="16" fill="#ff0000"/>
<rect x="1063" y="296" width="1" height="34" fill="#00ff7f"/>
<rect x="1062" y="304" width="3" height="19" fill="#00ff7f"/>
<rect x="1067" y="286" width="1" height="62" fill="#ff0000"/>
<rect x="1066" y="294" width="3" height="29" fill="#ff0000"/>
<rect x="1071" y="296" width="1" height="3" fill="#ff0000"/>
<rect x="1070" y="296" width="3" height="2" fill="#ff0000"/>
<rect x="1075" y="266" width="1" height="36" fill="#ff0000"/>
<rect x="1074" y="285" width="3" height="12" fill="#ff0000"/>
<rect x="1079" y="250" width="1" height="44" fill="#ff0000"/>
<rect x="1078" y="281" width="3" height="5" fill="#ff0000"/>
<rect x="1083" y="280" width="1" height="89" fill="#00ff7f"/>
<rect x="1082" y="281" width="3" height="83" fill="#00ff7f"/>
<rect x="1087" y="348" width="1" height="40" fill="#ff0000"/>
<rect x="1086" y="360" width="3" height="4" fill="#ff0000"/>
<rect x="1091" y="356" width="1" height="55" fill="#00ff7f"/>
<rect x="1090" y="360" width="3" height="41" fill="#00ff7f"/>
<rect x="1095" y="400" width="1" height="7" fill="#00ff7f"/>
<rect x="1094" y="402" width="3" height="3" fill="#00ff7f"/>
<rect x="1099" y="398" width="1" height="28" fill="#ff0000"/>
<rect x="1098" y="403" width="3" height="2" fill="#ff0000"/>
<rect x="1103" y="388" width="1" height="41" fill="#00ff7f"/>
<rect x="1102" y="403" width="3" height="17" fill="#00ff7f"/>
<rect x="1107" y="371" width="1" height="55" fill="#ff0000"/>
<rect x="1106" y="392" width="3" height="28" fill="#ff0000"/>
<rect x="1111" y="367" width="1" height="32" fill="#ff0000"/>
<rect x="1110" y="373" width="3" height="20" fill="#ff0000"/>
<rect x="1115" y="321" width="1" height="53" fill="#ff0000"/>
<rect x="1114" y="322" width="3" height="52" fill="#ff0000"/>
<rect x="1119" y="366" width="1" height="8" fill="#ff0000"/>
<rect x="1118" y="371" width="3" height="3" fill="#ff0000"/>
<rect x="1123" y="330" width="1" height="43" fill="#ff0000"/>
<rect x="1122" y="351" width="3" height="21" fill="#ff0000"/>
<rect x="1127" y="346" width="1" height="8" fill="#ff0000"/>
<rect x="1126" y="347" width="3" height="6" fill="#ff0000"/>
<polyline points="3.5,535.6 7.5,531.0 11.5,522.1 15.5,512.7 19.5,505.0 23.5,498.3 27.5,492.3 31.5,484.9 35.5,480.5 39.5,474.6 43.5,473.0 47.5,470.3 51.5,467.3 55.5,464.3 59.5,459.1 63.5,449.9 67.5,444.1 71.5,438.9 75.5,434.9 79.5,430.2 83.5,427.7 87.5,424.8 91.5,421.5 95.5,418.0 99.5,410.6 103.5,406.2 107.5,404.1 111.5,400.1 115.5,397.8 119.5,392.2 123.5,385.9 127.5,379.8 131.5,374.2 135.5,368.2 139.5,362.8 143.5,361.0 147.5,359.4 151.5,353.6 155.5,348.5 159.5,346.5 163.5,343.8 167.5,336.0 171.5,328.7 175.5,321.6 179.5,315.5 183.5,313.2 187.5,307.8 191.5,300.2 195.5,292.5 199.5,284.0 203.5,275.7 207.5,265.6 211.5,254.8 215.5,244.1 219.5,233.9 223.5,223.5 227.5,209.1 231.5,196.0 235.5,187.0 239.5,179.1 243.5,167.4 247.5,157.1 251.5,154.3 255.5,153.8 259.5,153.2 263.5,155.1 267.5,159.4 271.5,165.4 275.5,171.3 279.5,177.6 283.5,184.7 287.5,192.3 291.5,203.6 295.5,214.7 299.5,225.2 303.5,236.2 307.5,246.3 311.5,257.4 315.5,267.0 319.5,276.8 323.5,286.0 327.5,299.6 331.5,313.6 335.5,321.0 339.5,325.1 343.5,332.9 347.5,338.7 351.5,344.0 355.5,347.9 359.5,352.0 363.5,357.0 367.5,358.8 371.5,357.7 375.5,357.4 379.5,357.0 383.5,356.2 387.5,357.5 391.5,358.1 395.5,358.1 399.5,361.8 403.5,365.2 407.5,369.2 411.5,369.8 415.5,371.6 419.5,372.8 423.5,377.4 427.5,377.7 431.5,375.7 435.5,373.2 439.5,371.6 443.5,370.0 447.5,364.0 451.5,361.6 455.5,361.6 459.5,358.6 463.5,352.8 467.5,348.0 471.5,341.9 475.5,336.4 479.5,333.0 483.5,329.3 487.5,327.2 491.5,324.1 495.5,319.6 499.5,313.8 503.5,310.0 507.5,303.6 511.5,298.2 515.5,291.8 519.5,283.2 523.5,274.0 527.5,266.2 531.5,263.4 535.5,259.0 539.5,254.9 543.5,255.1 547.5,258.4 551.5,262.9 555.5,265.0 559.5,267.6 563.5,268.6 567.5,267.5 571.5,265.1 575.5,265.5 579.5,265.9 583.5,266.7 587.5,265.3 591.5,265.0 595.5,263.4 599.5,263.5 603.5,265.4 607.5,267.4 611.5,268.2 615.5,268.2 619.5,270.5 623.5,270.5 627.5,265.7 631.5,261.3 635.5,256.3 639.5,252.4 643.5,248.7 647.5,247.9 651.5,246.2 655.5,242.8 659.5,238.9 663.5,234.1 667.5,229.7 671.5,226.5 675.5,221.7 679.5,217.3 683.5,215.5 687.5,212.7 691.5,208.5 695.5,205.6 699.5,203.5 703.5,199.5 707.5,199.1 711.5,200.7 715.5,202.4 719.5,204.4 723.5,205.2 727.5,204.6 731.5,202.9 735.5,202.9 739.5,204.1 743.5,202.0 747.5,200.6 751.5,197.6 755.5,195.9 759.5,194.3 763.5,195.1 767.5,196.2 771.5,196.9 775.5,201.1 779.5,207.5 783.5,213.4 787.5,220.2 791.5,225.7 795.5,229.5 799.5,233.0 803.5,232.4 807.5,233.3 811.5,235.6 815.5,237.8 819.5,243.6 823.5,252.2 827.5,261.9 831.5,272.6 835.5,284.7 839.5,296.5 843.5,310.1 847.5,322.0 851.5,332.6 855.5,343.9 859.5,351.4 863.5,357.3 867.5,364.5 871.5,372.0 875.5,378.7 879.5,387.5 883.5,395.0 887.5,404.9 891.5,416.5 895.5,428.1 899.5,439.8 903.5,447.8 907.5,452.4 911.5,456.6 915.5,461.6 919.5,466.5 923.5,470.4 927.5,472.6 931.5,471.3 935.5,469.3 939.5,467.5 943.5,466.6 947.5,464.1 951.5,460.2 955.5,456.2 959.5,454.1 963.5,450.0 967.5,446.3 971.5,443.5 975.5,439.1 979.5,434.1 983.5,425.5 987.5,416.0 991.5,409.8 995.5,405.7 999.5,400.1 1003.5,393.1 1007.5,387.9 1011.5,379.2 1015.5,372.8 1019.5,368.5 1023.5,364.3 1027.5,358.5 1031.5,353.5 1035.5,349.5 1039.5,345.0 1043.5,340.0 1047.5,335.9 1051.5,334.7 1055.5,332.0 1059.5,328.4 1063.5,326.1 1067.5,324.8 1071.5,324.6 1075.5,321.0 1079.5,316.5 1083.5,316.3 1087.5,316.5 1091.5,317.9 1095.5,322.8 1099.5,327.9 1103.5,332.0 1107.5,334.8 1111.5,338.9 1115.5,340.1 1119.5,342.6 1123.5,344.5 1127.5,346.0" fill="none" stroke="#ffff00" stroke-width="1" shape-rendering="crispEdges"/>
<polyline points="3.5,501.0 7.5,496.6 11.5,490.0 15.5,487.9 19.5,484.5 23.5,479.3 27.5,474.7 31.5,466.1 35.5,458.4 39.5,453.7 43.5,453.4 47.5,453.3 51.5,453.0 55.5,452.3 59.5,448.9 63.5,440.6 67.5,434.3 71.5,426.5 75.5,420.0 79.5,413.9 83.5,410.9 87.5,410.8 91.5,408.2 95.5,405.1 99.5,394.3 103.5,388.4 107.5,384.5 111.5,378.4 115.5,374.1 119.5,371.9 123.5,366.6 127.5,364.8 131.5,362.2 135.5,360.0 139.5,355.1 143.5,353.2 147.5,347.3 151.5,337.7 155.5,333.3 159.5,330.5 163.5,323.4 167.5,314.8 171.5,307.1 175.5,302.2 179.5,299.4 183.5,294.5 187.5,288.7 191.5,282.5 195.5,272.9 199.5,258.8 203.5,246.3 207.5,234.6 211.5,224.3 215.5,208.6 219.5,195.2 223.5,186.3 227.5,173.8 231.5,159.0 235.5,144.9 239.5,132.1 243.5,120.0 247.5,108.8 251.5,107.6 255.5,111.8 259.5,118.5 263.5,133.6 267.5,151.4 271.5,170.7 275.5,188.7 279.5,204.1 283.5,222.2 287.5,240.7 291.5,259.4 295.5,277.7 299.5,295.3 303.5,313.9 307.5,324.2 311.5,329.1 315.5,329.8 319.5,327.5 323.5,322.0 327.5,321.2 331.5,322.1 335.5,322.6 339.5,322.4 343.5,329.4 347.5,336.2 351.5,345.3 355.5,354.6 359.5,362.4 363.5,370.1 367.5,374.4 371.5,376.7 375.5,380.4 379.5,384.2 383.5,380.3 387.5,379.8 391.5,380.0 395.5,378.6 399.5,373.1 403.5,367.3 407.5,359.8 411.5,354.2 415.5,351.4 419.5,346.2 423.5,350.2 427.5,359.5 431.5,363.7 435.5,369.6 439.5,377.7 443.5,381.1 447.5,379.0 451.5,379.7 455.5,376.4 459.5,370.5 463.5,359.7 467.5,347.6 471.5,335.3 475.5,325.4 479.5,312.1 483.5,300.4 487.5,294.5 491.5,286.2 495.5,276.1 499.5,267.1 503.5,265.2 507.5,263.1 511.5,264.3 515.5,263.6 519.5,265.2 523.5,266.6 527.5,267.4 531.5,269.5 535.5,268.6 539.5,264.9 543.5,262.2 547.5,261.0 551.5,262.6 555.5,262.2 559.5,261.8 563.5,259.7 567.5,254.5 571.5,254.4 575.5,259.6 579.5,264.0 583.5,267.9 587.5,268.1 591.5,272.2 595.5,277.1 599.5,276.2 603.5,275.7 607.5,273.4 611.5,272.2 615.5,270.5 619.5,271.4 623.5,269.4 627.5,263.2 631.5,254.8 635.5,248.2 639.5,240.7 643.5,236.8 647.5,234.0 651.5,228.6 655.5,223.4 659.5,219.9 663.5,214.0 667.5,210.2 671.5,205.5 675.5,199.0 679.5,197.2 683.5,200.9 687.5,202.8 691.5,201.8 695.5,202.0 699.5,202.7 703.5,198.8 707.5,198.7 711.5,200.0 715.5,200.0 719.5,203.5 723.5,204.0 727.5,203.9 731.5,205.7 735.5,207.1 739.5,206.3 743.5,203.9 747.5,202.1 751.5,198.2 755.5,194.1 759.5,191.2 763.5,191.3 767.5,194.1 771.5,194.4 775.5,196.9 779.5,205.4 783.5,215.9 787.5,224.8 791.5,232.8 795.5,238.1 799.5,246.5 803.5,251.4 807.5,257.6 811.5,263.4 815.5,271.0 819.5,279.8 823.5,290.5 827.5,301.4 831.5,309.3 835.5,314.1 839.5,318.8 843.5,326.1 847.5,335.8 851.5,348.8 855.5,360.8 859.5,375.3 863.5,391.3 867.5,409.4 871.5,426.0 875.5,435.5 879.5,440.9 883.5,446.2 887.5,449.9 891.5,455.3 895.5,460.8 899.5,465.5 903.5,468.5 907.5,470.1 911.5,470.4 915.5,474.5 919.5,477.9 923.5,477.6 927.5,477.1 931.5,474.7 935.5,471.5 939.5,469.5 943.5,467.8 947.5,462.7 951.5,457.5 955.5,450.7 959.5,444.8 963.5,437.3 967.5,430.8 971.5,422.8 975.5,414.2 979.5,406.3 983.5,394.9 987.5,385.5 991.5,380.9 995.5,377.6 999.5,374.8 1003.5,371.4 1007.5,369.1 1011.5,361.6 1015.5,352.9 1019.5,349.2 1023.5,346.5 1027.5,340.3 1031.5,334.4 1035.5,330.6 1039.5,329.8 1043.5,330.9 1047.5,326.5 1051.5,324.3 1055.5,320.7 1059.5,317.1 1063.5,313.7 1067.5,313.2 1071.5,313.1 1075.5,309.7 1079.5,305.9 1083.5,311.4 1087.5,315.9 1091.5,321.8 1095.5,328.4 1099.5,334.7 1103.5,343.4 1107.5,346.8 1111.5,350.7 1115.5,351.9 1119.5,355.3 1123.5,359.4 1127.5,363.0" fill="none" stroke="#ff0000" stroke-width="1" shape-rendering="crispEdges"/>
<polyline points="3.5,479.5 7.5,468.7 11.5,463.6 15.5,463.6 19.5,464.9 23.5,462.8 27.5,461.2 31.5,452.8 35.5,448.2 39.5,443.8 43.5,443.3 47.5,441.7 51.5,443.3 55.5,443.5 59.5,445.0 63.5,432.9 67.5,424.7 71.5,409.7 75.5,398.2 79.5,384.5 83.5,378.4 87.5,376.5 91.5,383.4 95.5,385.4 99.5,378.9 103.5,378.6 107.5,384.6 111.5,378.5 115.5,371.8 119.5,360.4 123.5,347.7 127.5,350.8 131.5,345.9 135.5,335.5 139.5,331.6 143.5,334.6 147.5,334.3 151.5,327.6 155.5,315.8 159.5,315.1 163.5,311.3 167.5,298.0 171.5,279.6 175.5,270.0 179.5,271.2 183.5,273.1 187.5,262.2 191.5,253.7 195.5,247.9 199.5,237.9 203.5,222.6 207.5,197.9 211.5,175.5 215.5,154.9 219.5,136.7 223.5,124.6 227.5,109.7 231.5,95.3 235.5,92.0 239.5,88.7 243.5,85.0 247.5,80.9 251.5,90.5 255.5,113.9 259.5,141.6 263.5,175.3 267.5,214.1 271.5,256.4 275.5,296.5 279.5,317.7 283.5,330.5 287.5,339.8 291.5,343.6 295.5,341.4 299.5,334.3 303.5,331.3 307.5,330.8 311.5,327.8 315.5,319.7 319.5,311.4 323.5,302.6 327.5,308.2 331.5,312.9 335.5,314.4 339.5,317.1 343.5,339.0 347.5,361.1 351.5,388.0 355.5,401.1 359.5,411.9 363.5,425.8 367.5,431.6 371.5,414.3 375.5,399.8 379.5,380.4 383.5,359.4 387.5,347.7 391.5,334.1 395.5,325.6 399.5,331.9 403.5,334.8 407.5,339.2 411.5,348.9 415.5,355.1 419.5,358.3 423.5,374.8 427.5,387.0 431.5,392.7 435.5,399.9 439.5,406.5 443.5,407.1 447.5,399.6 451.5,384.5 455.5,365.9 459.5,348.3 463.5,319.4 467.5,288.7 471.5,263.6 475.5,251.2 479.5,239.8 483.5,235.0 487.5,240.7 491.5,253.1 495.5,263.5 499.5,270.6 503.5,279.1 507.5,286.5 511.5,293.7 515.5,286.5 519.5,277.2 523.5,269.7 527.5,264.3 531.5,259.9 535.5,250.7 539.5,236.1 543.5,238.0 547.5,244.8 551.5,255.5 555.5,260.1 559.5,263.7 563.5,268.7 567.5,272.8 571.5,270.8 575.5,274.4 579.5,272.5 583.5,275.6 587.5,272.5 591.5,275.7 595.5,281.4 599.5,281.6 603.5,277.0 607.5,274.3 611.5,268.9 615.5,268.6 619.5,267.2 623.5,257.4 627.5,244.8 631.5,232.6 635.5,222.0 639.5,212.6 643.5,205.1 647.5,200.8 651.5,199.8 655.5,202.0 659.5,207.3 663.5,206.1 667.5,207.7 671.5,205.8 675.5,197.2 679.5,194.6 683.5,199.7 687.5,198.2 691.5,197.5 695.5,196.4 699.5,199.5 703.5,200.5 707.5,202.9 711.5,200.3 715.5,201.8 719.5,209.6 723.5,211.6 727.5,208.4 731.5,210.9 735.5,211.3 739.5,212.4 743.5,206.0 747.5,194.6 751.5,184.8 755.5,179.8 759.5,171.5 763.5,171.2 767.5,175.8 771.5,182.8 775.5,199.2 779.5,226.0 783.5,252.0 787.5,278.1 791.5,294.5 795.5,300.3 799.5,310.1 803.5,303.6 807.5,289.1 811.5,274.9 815.5,263.9 819.5,265.1 823.5,280.6 827.5,292.7 831.5,315.0 835.5,339.0 839.5,362.7 843.5,388.3 847.5,406.4 851.5,417.0 855.5,429.0 859.5,435.6 863.5,443.7 867.5,456.1 871.5,463.7 875.5,464.5 879.5,464.8 883.5,463.5 887.5,464.2 891.5,466.8 895.5,465.6 899.5,467.3 903.5,472.5 907.5,475.5 911.5,477.3 915.5,484.9 919.5,488.9 923.5,489.6 927.5,486.8 931.5,477.0 935.5,467.5 939.5,461.7 943.5,450.8 947.5,436.5 951.5,425.4 955.5,414.5 959.5,412.7 963.5,407.1 967.5,399.9 971.5,394.9 975.5,391.9 979.5,387.3 983.5,375.2 987.5,358.3 991.5,354.7 995.5,355.4 999.5,354.6 1003.5,351.0 1007.5,351.0 1011.5,348.0 1015.5,347.5 1019.5,343.7 1023.5,337.6 1027.5,326.0 1031.5,317.7 1035.5,310.2 1039.5,311.7 1043.5,314.3 1047.5,309.4 1051.5,311.0 1055.5,315.4 1059.5,316.5 1063.5,317.2 1067.5,314.6 1071.5,312.0 1075.5,310.0 1079.5,300.8 1083.5,307.4 1087.5,315.2 1091.5,326.3 1095.5,342.2 1099.5,357.5 1103.5,376.8 1107.5,392.7 1111.5,394.0 1115.5,388.6 1119.5,384.3 1123.5,376.6 1127.5,368.5" fill="none" stroke="#0000cd" stroke-width="1" shape-rendering="crispEdges"/>
<rect x="3" y="602" width="1" height="16" fill="#c0c0c0"/>
<rect x="7" y="603" width="1" height="15" fill="#c0c0c0"/>
<rect x="11" y="603" width="1" height="15" fill="#c0c0c0"/>
<rect x="15" y="602" width="1" height="16" fill="#c0c0c0"/>
<rect x="19" y="602" width="1" height="16" fill="#c0c0c0"/>
<rect x="23" y="600" width="1" height="18" fill="#c0c0c0"/>
<rect x="27" y="600" width="1" height="18" fill="#c0c0c0"/>
<rect x="31" y="598" width="1" height="20" fill="#c0c0c0"/>
<rect x="35" y="599" width="1" height="19" fill="#c0c0c0"/>
<rect x="39" y="599" width="1" height="19" fill="#c0c0c0"/>
<rect x="43" y="601" width="1" height="17" fill="#c0c0c0"/>
<rect x="47" y="601" width="1" height="17" fill="#c0c0c0"/>
<rect x="51" y="602" width="1" height="16" fill="#c0c0c0"/>
<rect x="55" y="602" width="1" height="16" fill="#c0c0c0"/>
<rect x="59" y="602" width="1" height="16" fill="#c0c0c0"/>
<rect x="63" y="599" width="1" height="19" fill="#c0c0c0"/>
<rect x="67" y="597" width="1" height="21" fill="#c0c0c0"/>
<rect x="71" y="594" width="1" height="24" fill="#c0c0c0"/>
<rect x="75" y="593" width="1" height="25" fill="#c0c0c0"/>
<rect x="79" y="591" width="1" height="27" fill="#c0c0c0"/>
<rect x="83" y="593" width="1" height="25" fill="#c0c0c0"/>
<rect x="87" y="596" width="1" height="22" fill="#c0c0c0"/>
<rect x="91" y="598" width="1" height="20" fill="#c0c0c0"/>
<rect x="95" y="600" width="1" height="18" fill="#c0c0c0"/>
<rect x="99" y="595" width="1" height="23" fill="#c0c0c0"/>
<rect x="103" y="595" width="1" height="23" fill="#c0c0c0"/>
<rect x="107" y="597" width="1" height="21" fill="#c0c0c0"/>
<rect x="111" y="597" width="1" height="21" fill="#c0c0c0"/>
<rect x="115" y="597" width="1" height="21" fill="#c0c0c0"/>
<rect x="119" y="597" width="1" height="21" fill="#c0c0c0"/>
<rect x="123" y="595" width="1" height="23" fill="#c0c0c0"/>
<rect x="127" y="594" width="1" height="24" fill="#c0c0c0"/>
<rect x="131" y="594" width="1" height="24" fill="#c0c0c0"/>
<rect x="135" y="594" width="1" height="24" fill="#c0c0c0"/>
<rect x="139" y="595" width="1" height="23" fill="#c0c0c0"/>
<rect x="143" y="599" width="1" height="19" fill="#c0c0c0"/>
<rect x="147" y="599" width="1" height="19" fill="#c0c0c0"/>
<rect x="151" y="596" width="1" height="22" fill="#c0c0c0"/>
<rect x="155" y="592" width="1" height="26" fill="#c0c0c0"/>
<rect x="159" y="594" width="1" height="24" fill="#c0c0c0"/>
<rect x="163" y="594" width="1" height="24" fill="#c0c0c0"/>
<rect x="167" y="591" width="1" height="27" fill="#c0c0c0"/>
<rect x="171" y="590" width="1" height="28" fill="#c0c0c0"/>
<rect x="175" y="591" width="1" height="27" fill="#c0c0c0"/>
<rect x="179" y="591" width="1" height="27" fill="#c0c0c0"/>
<rect x="183" y="591" width="1" height="27" fill="#c0c0c0"/>
<rect x="187" y="591" width="1" height="27" fill="#c0c0c0"/>
<rect x="191" y="590" width="1" height="28" fill="#c0c0c0"/>
<rect x="195" y="588" width="1" height="30" fill="#c0c0c0"/>
<rect x="199" y="586" width="1" height="32" fill="#c0c0c0"/>
<rect x="203" y="583" width="1" height="35" fill="#c0c0c0"/>
<rect x="207" y="578" width="1" height="40" fill="#c0c0c0"/>
<rect x="211" y="574" width="1" height="44" fill="#c0c0c0"/>
<rect x="215" y="572" width="1" height="46" fill="#c0c0c0"/>
<rect x="219" y="571" width="1" height="47" fill="#c0c0c0"/>
<rect x="223" y="571" width="1" height="47" fill="#c0c0c0"/>
<rect x="227" y="570" width="1" height="48" fill="#c0c0c0"/>
<rect x="231" y="568" width="1" height="50" fill="#c0c0c0"/>
<rect x="235" y="568" width="1" height="50" fill="#c0c0c0"/>
<rect x="239" y="569" width="1" height="49" fill="#c0c0c0"/>
<rect x="243" y="570" width="1" height="48" fill="#c0c0c0"/>
<rect x="247" y="571" width="1" height="47" fill="#c0c0c0"/>
<rect x="251" y="579" width="1" height="39" fill="#c0c0c0"/>
<rect x="255" y="589" width="1" height="29" fill="#c0c0c0"/>
<rect x="259" y="598" width="1" height="20" fill="#c0c0c0"/>
<rect x="263" y="609" width="1" height="9" fill="#c0c0c0"/>
<rect x="267" y="617" width="1" height="3" fill="#c0c0c0"/>
<rect x="271" y="617" width="1" height="12" fill="#c0c0c0"/>
<rect x="275" y="617" width="1" height="18" fill="#c0c0c0"/>
<rect x="279" y="617" width="1" height="22" fill="#c0c0c0"/>
<rect x="283" y="617" width="1" height="24" fill="#c0c0c0"/>
<rect x="287" y="617" width="1" height="25" fill="#c0c0c0"/>
<rect x="291" y="617" width="1" height="27" fill="#c0c0c0"/>
<rect x="295" y="617" width="1" height="28" fill="#c0c0c0"/>
<rect x="299" y="617" width="1" height="27" fill="#c0c0c0"/>
<rect x="303" y="617" width="1" height="27" fill="#c0c0c0"/>
<rect x="307" y="617" width="1" height="26" fill="#c0c0c0"/>
<rect x="311" y="617" width="1" height="24" fill="#c0c0c0"/>
<rect x="315" y="617" width="1" height="20" fill="#c0c0c0"/>
<rect x="319" y="617" width="1" height="18" fill="#c0c0c0"/>
<rect x="323" y="617" width="1" height="15" fill="#c0c0c0"/>
<rect x="327" y="617" width="1" height="18" fill="#c0c0c0"/>
<rect x="331" y="617" width="1" height="20" fill="#c0c0c0"/>
<rect x="335" y="617" width="1" height="20" fill="#c0c0c0"/>
<rect x="339" y="617" width="1" height="19" fill="#c0c0c0"/>
<rect x="343" y="617" width="1" height="24" fill="#c0c0c0"/>
<rect x="347" y="617" width="1" height="28" fill="#c0c0c0"/>
<rect x="351" y="617" width="1" height="32" fill="#c0c0c0"/>
<rect x="355" y="617" width="1" height="35" fill="#c0c0c0"/>
<rect x="359" y="617" width="1" height="36" fill="#c0c0c0"/>
<rect x="363" y="617" width="1" height="35" fill="#c0c0c0"/>
<rect x="367" y="617" width="1" height="31" fill="#c0c0c0"/>
<rect x="371" y="617" width="1" height="24" fill="#c0c0c0"/>
<rect x="375" y="617" width="1" height="20" fill="#c0c0c0"/>
<rect x="379" y="617" width="1" height="16" fill="#c0c0c0"/>
<rect x="383" y="617" width="1" height="11" fill="#c0c0c0"/>
<rect x="387" y="617" width="1" height="11" fill="#c0c0c0"/>
<rect x="391" y="617" width="1" height="9" fill="#c0c0c0"/>
<rect x="395" y="617" width="1" height="6" fill="#c0c0c0"/>
<rect x="399" y="617" width="1" height="5" fill="#c0c0c0"/>
<rect x="403" y="617" width="1" height="5" fill="#c0c0c0"/>
<rect x="407" y="617" width="1" height="6" fill="#c0c0c0"/>
<rect x="411" y="617" width="1" height="7" fill="#c0c0c0"/>
<rect x="415" y="617" width="1" height="9" fill="#c0c0c0"/>
<rect x="419" y="617" width="1" height="9" fill="#c0c0c0"/>
<rect x="423" y="617" width="1" height="12" fill="#c0c0c0"/>
<rect x="427" y="617" width="1" height="14" fill="#c0c0c0"/>
<rect x="431" y="617" width="1" height="14" fill="#c0c0c0"/>
<rect x="435" y="617" width="1" height="15" fill="#c0c0c0"/>
<rect x="439" y="617" width="1" height="16" fill="#c0c0c0"/>
<rect x="443" y="617" width="1" height="15" fill="#c0c0c0"/>
<rect x="447" y="617" width="1" height="9" fill="#c0c0c0"/>
<rect x="451" y="617" width="1" height="5" fill="#c0c0c0"/>
<rect x="455" y="617" width="1" height="1" fill="#c0c0c0"/>
<rect x="459" y="612" width="1" height="6" fill="#c0c0c0"/>
<rect x="463" y="604" width="1" height="14" fill="#c0c0c0"/>
<rect x="467" y="598" width="1" height="20" fill="#c0c0c0"/>
<rect x="471" y="595" width="1" height="23" fill="#c0c0c0"/>
<rect x="475" y="593" width="1" height="25" fill="#c0c0c0"/>
<rect x="479" y="592" width="1" height="26" fill="#c0c0c0"/>
<rect x="483" y="593" width="1" height="25" fill="#c0c0c0"/>
<rect x="487" y="597" width="1" height="21" fill="#c0c0c0"/>
<rect x="491" y="599" width="1" height="19" fill="#c0c0c0"/>
<rect x="495" y="600" width="1" height="18" fill="#c0c0c0"/>
<rect x="499" y="601" width="1" height="17" fill="#c0c0c0"/>
<rect x="503" y="603" width="1" height="15" fill="#c0c0c0"/>
<rect x="507" y="604" width="1" height="14" fill="#c0c0c0"/>
<rect x="511" y="607" width="1" height="11" fill="#c0c0c0"/>
<rect x="515" y="606" width="1" height="12" fill="#c0c0c0"/>
<rect x="519" y="604" width="1" height="14" fill="#c0c0c0"/>
<rect x="523" y="602" width="1" height="16" fill="#c0c0c0"/>
<rect x="527" y="602" width="1" height="16" fill="#c0c0c0"/>
<rect x="531" y="602" width="1" height="16" fill="#c0c0c0"/>
<rect x="535" y="601" width="1" height="17" fill="#c0c0c0"/>
<rect x="539" y="600" width="1" height="18" fill="#c0c0c0"/>
<rect x="543" y="602" width="1" height="16" fill="#c0c0c0"/>
<rect x="547" y="605" width="1" height="13" fill="#c0c0c0"/>
<rect x="551" y="608" width="1" height="10" fill="#c0c0c0"/>
<rect x="555" y="609" width="1" height="9" fill="#c0c0c0"/>
<rect x="559" y="611" width="1" height="7" fill="#c0c0c0"/>
<rect x="563" y="611" width="1" height="7" fill="#c0c0c0"/>
<rect x="567" y="610" width="1" height="8" fill="#c0c0c0"/>
<rect x="571" y="610" width="1" height="8" fill="#c0c0c0"/>
<rect x="575" y="613" width="1" height="5" fill="#c0c0c0"/>
<rect x="579" y="614" width="1" height="4" fill="#c0c0c0"/>
<rect x="583" y="616" width="1" height="2" fill="#c0c0c0"/>
<rect x="587" y="615" width="1" height="3" fill="#c0c0c0"/>
<rect x="591" y="616" width="1" height="2" fill="#c0c0c0"/>
<rect x="595" y="617" width="1" height="1" fill="#c0c0c0"/>
<rect x="599" y="616" width="1" height="2" fill="#c0c0c0"/>
<rect x="603" y="615" width="1" height="3" fill="#c0c0c0"/>
<rect x="607" y="615" width="1" height="3" fill="#c0c0c0"/>
<rect x="611" y="615" width="1" height="3" fill="#c0c0c0"/>
<rect x="615" y="614" width="1" height="4" fill="#c0c0c0"/>
<rect x="619" y="615" width="1" height="3" fill="#c0c0c0"/>
<rect x="623" y="612" width="1" height="6" fill="#c0c0c0"/>
<rect x="627" y="607" width="1" height="11" fill="#c0c0c0"/>
<rect x="631" y="604" width="1" height="14" fill="#c0c0c0"/>
<rect x="635" y="603" width="1" height="15" fill="#c0c0c0"/>
<rect x="639" y="602" width="1" height="16" fill="#c0c0c0"/>
<rect x="643" y="601" width="1" height="17" fill="#c0c0c0"/>
<rect x="647" y="604" width="1" height="14" fill="#c0c0c0"/>
<rect x="651" y="604" width="1" height="14" fill="#c0c0c0"/>
<rect x="655" y="603" width="1" height="15" fill="#c0c0c0"/>
<rect x="659" y="604" width="1" height="14" fill="#c0c0c0"/>
<rect x="663" y="603" width="1" height="15" fill="#c0c0c0"/>
<rect x="667" y="604" width="1" height="14" fill="#c0c0c0"/>
<rect x="671" y="603" width="1" height="15" fill="#c0c0c0"/>
<rect x="675" y="603" width="1" height="15" fill="#c0c0c0"/>
<rect x="679" y="603" width="1" height="15" fill="#c0c0c0"/>
<rect x="683" y="606" width="1" height="12" fill="#c0c0c0"/>
<rect x="687" y="607" width="1" height="11" fill="#c0c0c0"/>
<rect x="691" y="606" width="1" height="12" fill="#c0c0c0"/>
<rect x="695" y="607" width="1" height="11" fill="#c0c0c0"/>
<rect x="699" y="608" width="1" height="10" fill="#c0c0c0"/>
<rect x="703" y="608" width="1" height="10" fill="#c0c0c0"/>
<rect x="707" y="609" width="1" height="9" fill="#c0c0c0"/>
<rect x="711" y="610" width="1" height="8" fill="#c0c0c0"/>
<rect x="715" y="611" width="1" height="7" fill="#c0c0c0"/>
<rect x="719" y="613" width="1" height="5" fill="#c0c0c0"/>
<rect x="723" y="614" width="1" height="4" fill="#c0c0c0"/>
<rect x="727" y="613" width="1" height="5" fill="#c0c0c0"/>
<rect x="731" y="613" width="1" height="5" fill="#c0c0c0"/>
<rect x="735" y="614" width="1" height="4" fill="#c0c0c0"/>
<rect x="739" y="614" width="1" height="4" fill="#c0c0c0"/>
<rect x="743" y="612" width="1" height="6" fill="#c0c0c0"/>
<rect x="747" y="610" width="1" height="8" fill="#c0c0c0"/>
<rect x="751" y="608" width="1" height="10" fill="#c0c0c0"/>
<rect x="755" y="606" width="1" height="12" fill="#c0c0c0"/>
<rect x="759" y="605" width="1" height="13" fill="#c0c0c0"/>
<rect x="763" y="608" width="1" height="10" fill="#c0c0c0"/>
<rect x="767" y="612" width="1" height="6" fill="#c0c0c0"/>
<rect x="771" y="614" width="1" height="4" fill="#c0c0c0"/>
<rect x="775" y="617" width="1" height="3" fill="#c0c0c0"/>
<rect x="779" y="617" width="1" height="10" fill="#c0c0c0"/>
<rect x="783" y="617" width="1" height="15" fill="#c0c0c0"/>
<rect x="787" y="617" width="1" height="19" fill="#c0c0c0"/>
<rect x="791" y="617" width="1" height="22" fill="#c0c0c0"/>
<rect x="795" y="617" width="1" height="21" fill="#c0c0c0"/>
<rect x="799" y="617" width="1" height="21" fill="#c0c0c0"/>
<rect x="803" y="617" width="1" height="17" fill="#c0c0c0"/>
<rect x="807" y="617" width="1" height="13" fill="#c0c0c0"/>
<rect x="811" y="617" width="1" height="11" fill="#c0c0c0"/>
<rect x="815" y="617" width="1" height="10" fill="#c0c0c0"/>
<rect x="819" y="617" width="1" height="14" fill="#c0c0c0"/>
<rect x="823" y="617" width="1" height="20" fill="#c0c0c0"/>
<rect x="827" y="617" width="1" height="24" fill="#c0c0c0"/>
<rect x="831" y="617" width="1" height="27" fill="#c0c0c0"/>
<rect x="835" y="617" width="1" height="30" fill="#c0c0c0"/>
<rect x="839" y="617" width="1" height="32" fill="#c0c0c0"/>
<rect x="843" y="617" width="1" height="35" fill="#c0c0c0"/>
<rect x="847" y="617" width="1" height="39" fill="#c0c0c0"/>
<rect x="851" y="617" width="1" height="42" fill="#c0c0c0"/>
<rect x="855" y="617" width="1" height="43" fill="#c0c0c0"/>
<rect x="859" y="617" width="1" height="42" fill="#c0c0c0"/>
<rect x="863" y="617" width="1" height="42" fill="#c0c0c0"/>
<rect x="867" y="617" width="1" height="43" fill="#c0c0c0"/>
<rect x="871" y="617" width="1" height="44" fill="#c0c0c0"/>
<rect x="875" y="617" width="1" height="43" fill="#c0c0c0"/>
<rect x="879" y="617" width="1" height="42" fill="#c0c0c0"/>
<rect x="883" y="617" width="1" height="39" fill="#c0c0c0"/>
<rect x="887" y="617" width="1" height="36" fill="#c0c0c0"/>
<rect x="891" y="617" width="1" height="35" fill="#c0c0c0"/>
<rect x="895" y="617" width="1" height="34" fill="#c0c0c0"/>
<rect x="899" y="617" width="1" height="35" fill="#c0c0c0"/>
<rect x="903" y="617" width="1" height="35" fill="#c0c0c0"/>
<rect x="907" y="617" width="1" height="33" fill="#c0c0c0"/>
<rect x="911" y="617" width="1" height="31" fill="#c0c0c0"/>
<rect x="915" y="617" width="1" height="30" fill="#c0c0c0"/>
<rect x="919" y="617" width="1" height="29" fill="#c0c0c0"/>
<rect x="923" y="617" width="1" height="27" fill="#c0c0c0"/>
<rect x="927" y="617" width="1" height="26" fill="#c0c0c0"/>
<rect x="931" y="617" width="1" height="21" fill="#c0c0c0"/>
<rect x="935" y="617" width="1" height="17" fill="#c0c0c0"/>
<rect x="939" y="617" width="1" height="14" fill="#c0c0c0"/>
<rect x="943" y="617" width="1" height="10" fill="#c0c0c0"/>
<rect x="947" y="617" width="1" height="7" fill="#c0c0c0"/>
<rect x="951" y="617" width="1" height="4" fill="#c0c0c0"/>
<rect x="955" y="617" width="1" height="2" fill="#c0c0c0"/>
<rect x="959" y="617" width="1" height="1" fill="#c0c0c0"/>
<rect x="963" y="615" width="1" height="3" fill="#c0c0c0"/>
<rect x="967" y="612" width="1" height="6" fill="#c0c0c0"/>
<rect x="971" y="610" width="1" height="8" fill="#c0c0c0"/>
<rect x="975" y="609" width="1" height="9" fill="#c0c0c0"/>
<rect x="979" y="607" width="1" height="11" fill="#c0c0c0"/>
<rect x="983" y="604" width="1" height="14" fill="#c0c0c0"/>
<rect x="987" y="600" width="1" height="18" fill="#c0c0c0"/>
<rect x="991" y="600" width="1" height="18" fill="#c0c0c0"/>
<rect x="995" y="602" width="1" height="16" fill="#c0c0c0"/>
<rect x="999" y="603" width="1" height="15" fill="#c0c0c0"/>
<rect x="1003" y="603" width="1" height="15" fill="#c0c0c0"/>
<rect x="1007" y="604" width="1" height="14" fill="#c0c0c0"/>
<rect x="1011" y="601" width="1" height="17" fill="#c0c0c0"/>
<rect x="1015" y="599" width="1" height="19" fill="#c0c0c0"/>
<rect x="1019" y="599" width="1" height="19" fill="#c0c0c0"/>
<rect x="1023" y="600" width="1" height="18" fill="#c0c0c0"/>
<rect x="1027" y="598" width="1" height="20" fill="#c0c0c0"/>
<rect x="1031" y="597" width="1" height="21" fill="#c0c0c0"/>
<rect x="1035" y="598" width="1" height="20" fill="#c0c0c0"/>
<rect x="1039" y="598" width="1" height="20" fill="#c0c0c0"/>
<rect x="1043" y="599" width="1" height="19" fill="#c0c0c0"/>
<rect x="1047" y="599" width="1" height="19" fill="#c0c0c0"/>
<rect x="1051" y="602" width="1" height="16" fill="#c0c0c0"/>
<rect x="1055" y="602" width="1" height="16" fill="#c0c0c0"/>
<rect x="1059" y="602" width="1" height="16" fill="#c0c0c0"/>
<rect x="1063" y="604" width="1" height="14" fill="#c0c0c0"/>
<rect x="1067" y="603" width="1" height="15" fill="#c0c0c0"/>
<rect x="1071" y="603" width="1" height="15" fill="#c0c0c0"/>
<rect x="1075" y="602" width="1" height="16" fill="#c0c0c0"/>
<rect x="1079" y="602" width="1" height="16" fill="#c0c0c0"/>
<rect x="1083" y="606" width="1" height="12" fill="#c0c0c0"/>
<rect x="1087" y="610" width="1" height="8" fill="#c0c0c0"/>
<rect x="1091" y="615" width="1" height="3" fill="#c0c0c0"/>
<rect x="1095" y="617" width="1" height="3" fill="#c0c0c0"/>
<rect x="1099" y="617" width="1" height="6" fill="#c0c0c0"/>
<rect x="1103" y="617" width="1" height="10" fill="#c0c0c0"/>
<rect x="1107" y="617" width="1" height="11" fill="#c0c0c0"/>
<rect x="1111" y="617" width="1" height="10" fill="#c0c0c0"/>
<rect x="1115" y="617" width="1" height="7" fill="#c0c0c0"/>
<rect x="1119" y="617" width="1" height="7" fill="#c0c0c0"/>
<rect x="1123" y="617" width="1" height="6" fill="#c0c0c0"/>
<rect x="1127" y="617" width="1" height="5" fill="#c0c0c0"/>
<polyline points="3.5,610.3 7.5,608.9 11.5,607.5 15.5,605.8 19.5,604.3 23.5,603.1 27.5,602.3 31.5,601.6 35.5,601.3 39.5,601.1 43.5,600.8 47.5,600.7 51.5,600.6 55.5,600.7 59.5,600.9 63.5,600.8 67.5,600.7 71.5,600.2 75.5,599.5 79.5,598.4 83.5,597.5 87.5,596.8 91.5,596.4 95.5,596.1 99.5,595.8 103.5,595.5 107.5,595.9 111.5,596.3 115.5,597.0 119.5,597.5 123.5,597.4 127.5,597.0 131.5,596.4 135.5,596.2 139.5,596.2 143.5,596.3 147.5,596.6 151.5,596.4 155.5,595.9 159.5,595.8 163.5,595.7 167.5,595.3 171.5,594.9 175.5,594.4 179.5,593.6 183.5,592.8 187.5,592.2 191.5,592.0 195.5,591.3 199.5,590.4 203.5,589.6 207.5,588.2 211.5,586.4 215.5,584.3 219.5,582.0 223.5,579.7 227.5,577.4 231.5,575.2 235.5,573.3 239.5,571.8 243.5,570.9 247.5,570.6 251.5,571.4 255.5,573.4 259.5,576.5 263.5,580.8 267.5,586.4 271.5,593.1 275.5,600.3 279.5,607.8 283.5,615.5 287.5,622.4 291.5,628.4 295.5,633.4 299.5,637.2 303.5,639.9 307.5,641.4 311.5,642.1 315.5,642.0 319.5,641.2 323.5,640.1 327.5,639.0 331.5,638.2 335.5,637.4 339.5,636.5 343.5,636.2 347.5,636.5 351.5,637.8 355.5,639.7 359.5,642.0 363.5,644.0 367.5,645.2 371.5,645.7 375.5,645.8 379.5,644.9 383.5,643.0 387.5,640.7 391.5,637.8 395.5,634.5 399.5,631.2 403.5,628.3 407.5,626.2 411.5,624.8 415.5,624.1 419.5,623.8 423.5,624.0 427.5,624.6 431.5,625.5 435.5,626.5 439.5,627.7 443.5,628.8 447.5,629.1 451.5,628.7 455.5,627.8 459.5,626.0 463.5,623.1 467.5,619.6 471.5,615.6 475.5,611.3 479.5,606.9 483.5,603.4 487.5,600.6 491.5,598.7 495.5,597.4 499.5,597.1 503.5,597.6 507.5,598.6 511.5,600.2 515.5,601.7 519.5,602.9 523.5,603.4 527.5,603.7 531.5,603.9 535.5,603.9 539.5,603.6 543.5,603.4 547.5,603.1 551.5,603.3 555.5,604.0 559.5,604.9 563.5,606.0 567.5,606.9 571.5,607.9 575.5,609.3 579.5,610.7 583.5,611.9 587.5,612.7 591.5,613.4 595.5,614.0 599.5,614.6 603.5,615.2 607.5,615.7 611.5,615.9 615.5,615.9 619.5,615.7 623.5,615.4 627.5,614.4 631.5,613.0 635.5,611.6 639.5,610.0 643.5,608.5 647.5,607.3 651.5,606.2 655.5,604.9 659.5,604.0 663.5,603.6 667.5,603.5 671.5,603.6 675.5,603.8 679.5,604.0 683.5,604.2 687.5,604.5 691.5,604.9 695.5,605.1 699.5,605.6 703.5,606.1 707.5,606.7 711.5,607.4 715.5,608.3 719.5,609.1 723.5,609.9 727.5,610.7 731.5,611.4 735.5,612.1 739.5,612.8 743.5,613.2 747.5,613.2 751.5,612.8 755.5,612.0 759.5,611.1 763.5,610.5 767.5,610.4 771.5,610.5 775.5,611.0 779.5,612.5 783.5,614.8 787.5,617.9 791.5,621.4 795.5,625.0 799.5,628.2 803.5,630.5 807.5,632.2 811.5,633.1 815.5,633.2 819.5,633.0 823.5,633.1 827.5,633.4 831.5,634.0 835.5,635.0 839.5,636.6 843.5,639.1 847.5,642.1 851.5,645.6 855.5,648.8 859.5,651.2 863.5,653.2 867.5,655.0 871.5,656.6 875.5,657.8 879.5,658.5 883.5,658.5 887.5,657.9 891.5,657.0 895.5,656.1 899.5,655.3 903.5,654.4 907.5,653.2 911.5,651.9 915.5,650.6 919.5,649.5 923.5,648.5 927.5,647.5 931.5,646.1 935.5,644.2 939.5,641.9 943.5,639.3 947.5,636.6 951.5,633.7 955.5,630.7 959.5,627.8 963.5,624.8 967.5,621.9 971.5,619.3 975.5,617.0 979.5,615.0 983.5,612.9 987.5,610.7 991.5,608.7 995.5,607.0 999.5,605.6 1003.5,604.6 1007.5,603.9 1011.5,603.1 1015.5,602.1 1019.5,601.6 1023.5,601.5 1027.5,601.2 1031.5,600.7 1035.5,600.1 1039.5,599.6 1043.5,599.0 1047.5,598.8 1051.5,599.1 1055.5,599.5 1059.5,599.8 1063.5,600.5 1067.5,601.2 1071.5,601.8 1075.5,602.3 1079.5,602.6 1083.5,603.4 1087.5,604.3 1091.5,605.7 1095.5,607.6 1099.5,609.7 1103.5,612.2 1107.5,614.9 1111.5,617.5 1115.5,619.9 1119.5,621.8 1123.5,623.1 1127.5,623.8" fill="none" stroke="#ff0000" stroke-width="1" stroke-dasharray="3.4 2.6" shape-rendering="crispEdges"/>
<polyline points="3.5,723.9 7.5,728.7 11.5,725.5 15.5,722.8 19.5,722.1 23.5,718.0 27.5,720.7 31.5,715.3 35.5,727.5 39.5,724.6 43.5,727.4 47.5,725.2 51.5,724.9 55.5,725.2 59.5,720.3 63.5,712.0 67.5,715.5 71.5,709.9 75.5,714.1 79.5,711.3 83.5,725.9 87.5,727.6 91.5,731.0 95.5,726.3 99.5,711.7 103.5,723.7 107.5,728.6 111.5,724.2 115.5,724.6 119.5,721.9 123.5,717.5 127.5,720.7 131.5,721.0 135.5,719.1 139.5,722.9 143.5,733.9 147.5,726.5 151.5,715.8 155.5,713.5 159.5,727.9 163.5,723.5 167.5,717.8 171.5,720.4 175.5,723.9 179.5,723.8 183.5,721.6 187.5,720.1 191.5,717.7 195.5,713.7 199.5,711.9 203.5,709.9 207.5,703.0 211.5,703.1 215.5,703.7 219.5,703.5 223.5,707.3 227.5,703.2 231.5,701.8 235.5,705.1 239.5,705.5 243.5,705.3 247.5,704.7 251.5,734.4 255.5,744.6 259.5,747.1 263.5,753.7 267.5,757.7 271.5,760.0 275.5,755.4 279.5,750.1 283.5,750.4 287.5,749.0 291.5,750.8 295.5,749.6 299.5,746.6 303.5,748.2 307.5,746.4 311.5,742.1 315.5,731.6 319.5,734.2 323.5,732.4 327.5,749.3 331.5,749.8 335.5,742.8 339.5,741.1 343.5,754.8 347.5,756.2 351.5,759.2 355.5,757.0 359.5,753.8 363.5,751.9 367.5,737.2 371.5,725.5 375.5,731.1 379.5,729.9 383.5,726.8 387.5,736.0 391.5,732.5 395.5,728.0 399.5,734.1 403.5,735.2 407.5,735.9 411.5,739.0 415.5,743.6 419.5,735.3 423.5,745.1 427.5,745.8 431.5,738.3 435.5,740.6 439.5,742.6 443.5,739.7 447.5,723.5 451.5,725.6 455.5,722.8 459.5,718.5 463.5,711.3 467.5,711.3 471.5,716.8 475.5,715.7 479.5,719.7 483.5,725.2 487.5,733.0 491.5,730.0 495.5,727.8 499.5,728.2 503.5,728.5 507.5,730.9 511.5,736.2 515.5,724.8 519.5,719.8 523.5,719.6 527.5,723.7 531.5,725.7 535.5,721.5 539.5,719.4 543.5,732.3 547.5,733.0 551.5,738.1 555.5,732.7 559.5,732.8 563.5,729.9 567.5,726.1 571.5,729.5 575.5,738.8 579.5,735.8 583.5,738.0 587.5,728.2 591.5,735.0 595.5,735.0 599.5,729.3 603.5,731.1 607.5,731.5 611.5,729.2 615.5,727.5 619.5,733.9 623.5,720.9 627.5,713.3 631.5,716.3 635.5,719.9 639.5,719.6 643.5,721.3 647.5,733.4 651.5,725.8 655.5,721.6 659.5,729.2 663.5,723.2 667.5,727.5 671.5,724.1 675.5,723.9 679.5,725.5 683.5,733.1 687.5,729.9 691.5,724.3 695.5,728.3 699.5,731.0 703.5,727.4 707.5,731.5 711.5,730.7 715.5,734.4 719.5,738.7 723.5,732.0 727.5,725.8 731.5,732.4 735.5,732.5 739.5,732.9 743.5,723.3 747.5,719.6 751.5,717.0 755.5,719.4 759.5,720.0 763.5,736.4 767.5,744.0 771.5,738.4 775.5,747.3 779.5,756.0 783.5,756.1 787.5,756.5 791.5,752.9 795.5,742.7 799.5,743.8 803.5,729.4 807.5,730.3 811.5,731.0 815.5,736.5 819.5,748.9 823.5,756.4 827.5,752.3 831.5,753.1 835.5,755.1 839.5,755.2 843.5,759.9 847.5,762.2 851.5,763.2 855.5,760.6 859.5,751.8 863.5,755.3 867.5,759.2 871.5,759.9 875.5,752.4 879.5,753.1 883.5,747.6 887.5,743.1 891.5,749.9 895.5,750.4 899.5,754.6 903.5,753.8 907.5,750.7 911.5,742.7 915.5,747.1 919.5,749.7 923.5,744.1 927.5,744.5 931.5,731.2 935.5,729.4 939.5,729.0 943.5,726.0 947.5,724.1 951.5,724.7 955.5,726.1 959.5,729.9 963.5,721.1 967.5,718.0 971.5,718.9 975.5,721.2 979.5,718.8 983.5,708.6 987.5,704.8 991.5,724.4 995.5,728.5 999.5,726.9 1003.5,723.8 1007.5,728.4 1011.5,715.1 1015.5,714.3 1019.5,724.2 1023.5,724.2 1027.5,716.1 1031.5,718.6 1035.5,724.1 1039.5,723.0 1043.5,723.7 1047.5,720.5 1051.5,732.6 1055.5,726.8 1059.5,724.2 1063.5,728.8 1067.5,722.9 1071.5,723.5 1075.5,721.3 1079.5,720.4 1083.5,740.4 1087.5,739.4 1091.5,746.8 1095.5,747.6 1099.5,747.0 1103.5,750.1 1107.5,742.2 1111.5,737.2 1115.5,726.1 1119.5,736.3 1123.5,732.3 1127.5,731.5" fill="none" stroke="#1e90ff" stroke-width="1" shape-rendering="crispEdges"/>
<rect x="1129" y="22" width="10" height="1" fill="#c0c0c0"/>
<rect x="1130" y="23" width="8" height="1" fill="#c0c0c0"/>
<rect x="1131" y="24" width="6" height="1" fill="#c0c0c0"/>
<rect x="1132" y="25" width="4" height="1" fill="#c0c0c0"/>
<rect x="1133" y="26" width="2" height="1" fill="#c0c0c0"/>
<rect x="2" y="46" width="1418" height="3" fill="#ff0000"/>
<rect x="2" y="44" width="7" height="7" fill="#ff0000"/>
<rect x="5" y="47" width="1" height="1" fill="#fff"/>
<rect x="1412" y="44" width="7" height="7" fill="#ff0000"/>
<rect x="1415" y="47" width="1" height="1" fill="#fff"/>
<rect x="2" y="147" width="1418" height="3" fill="#ff0000"/>
<rect x="2" y="145" width="7" height="7" fill="#ff0000"/>
<rect x="5" y="148" width="1" height="1" fill="#fff"/>
<rect x="1412" y="145" width="7" height="7" fill="#ff0000"/>
<rect x="1415" y="148" width="1" height="1" fill="#fff"/>
<rect x="2" y="276" width="1418" height="3" fill="#00ff00"/>
<rect x="2" y="274" width="7" height="7" fill="#00ff00"/>
<rect x="5" y="277" width="1" height="1" fill="#fff"/>
<rect x="1412" y="274" width="7" height="7" fill="#00ff00"/>
<rect x="1415" y="277" width="1" height="1" fill="#fff"/>
<rect x="2" y="394" width="1418" height="3" fill="#0000ff"/>
<rect x="2" y="392" width="7" height="7" fill="#0000ff"/>
<rect x="5" y="395" width="1" height="1" fill="#fff"/>
<rect x="1412" y="392" width="7" height="7" fill="#0000ff"/>
<rect x="1415" y="395" width="1" height="1" fill="#fff"/>
<rect x="2" y="523" width="1418" height="3" fill="#0000ff"/>
<rect x="1419" y="29" width="2" height="1" fill="#000"/>
<rect x="1419" y="62" width="2" height="1" fill="#000"/>
<rect x="1419" y="95" width="2" height="1" fill="#000"/>
<rect x="1419" y="128" width="2" height="1" fill="#000"/>
<rect x="1419" y="161" width="2" height="1" fill="#000"/>
<rect x="1419" y="194" width="2" height="1" fill="#000"/>
<rect x="1419" y="227" width="2" height="1" fill="#000"/>
<rect x="1419" y="260" width="2" height="1" fill="#000"/>
<rect x="1419" y="293" width="2" height="1" fill="#000"/>
<rect x="1419" y="326" width="2" height="1" fill="#000"/>
<rect x="1419" y="359" width="2" height="1" fill="#000"/>
<rect x="1419" y="392" width="2" height="1" fill="#000"/>
<rect x="1419" y="425" width="2" height="1" fill="#000"/>
<rect x="1419" y="458" width="2" height="1" fill="#000"/>
<rect x="1419" y="491" width="2" height="1" fill="#000"/>
<rect x="1419" y="524" width="2" height="1" fill="#000"/>
<rect x="1419" y="557" width="2" height="1" fill="#000"/>
<rect x="1420" y="41" width="41" height="11" fill="#ff0000"/>
<rect x="1420" y="142" width="41" height="11" fill="#ff0000"/>
<rect x="1420" y="271" width="41" height="11" fill="#00ff00"/>
<rect x="1420" y="389" width="41" height="11" fill="#0000ff"/>
<rect x="1420" y="518" width="41" height="11" fill="#0000ff"/>
<rect x="1420" y="342" width="41" height="11" fill="#000"/>
<rect x="1419" y="563" width="2" height="1" fill="#000"/>
<rect x="1419" y="617" width="2" height="1" fill="#000"/>
<rect x="1419" y="664" width="2" height="1" fill="#000"/>
<rect x="1419" y="668" width="2" height="1" fill="#000"/>
<rect x="1419" y="796" width="2" height="1" fill="#000"/>
<line x1="4" y1="707.5" x2="1418" y2="707.5" stroke="#c0c0c0" stroke-width="1" stroke-dasharray="3 3"/>
<line x1="4" y1="758.5" x2="1418" y2="758.5" stroke="#c0c0c0" stroke-width="1" stroke-dasharray="3 3"/>
<rect x="3" y="798" width="1" height="3" fill="#000"/>
<rect x="67" y="798" width="1" height="3" fill="#000"/>
<rect x="131" y="798" width="1" height="3" fill="#000"/>
<rect x="195" y="798" width="1" height="3" fill="#000"/>
<rect x="259" y="798" width="1" height="3" fill="#000"/>
<rect x="323" y="798" width="1" height="3" fill="#000"/>
<rect x="387" y="798" width="1" height="3" fill="#000"/>
<rect x="451" y="798" width="1" height="3" fill="#000"/>
<rect x="515" y="798" width="1" height="3" fill="#000"/>
<rect x="579" y="798" width="1" height="3" fill="#000"/>
<rect x="643" y="798" width="1" height="3" fill="#000"/>
<rect x="707" y="798" width="1" height="3" fill="#000"/>
<rect x="771" y="798" width="1" height="3" fill="#000"/>
<rect x="835" y="798" width="1" height="3" fill="#000"/>
<rect x="899" y="798" width="1" height="3" fill="#000"/>
<rect x="963" y="798" width="1" height="3" fill="#000"/>
<rect x="1027" y="798" width="1" height="3" fill="#000"/>
<rect x="1091" y="798" width="1" height="3" fill="#000"/>
</svg>
<div class="abs" style="left:3px;top:38px;width:224px;height:69px;background:#fff"></div>
<div class="abs" style="left:2px;top:44px;width:2px;height:7px;background:#ff0000"></div>
<div class="abs" style="left:6px;top:41px;width:52px;height:25px;background:linear-gradient(#f85858,#e23a3a);border-top:1px solid #c81010;border-left:1px solid #d02020"></div>
<div class="abs" style="left:173px;top:41px;width:52px;height:25px;background:linear-gradient(#f85858,#e23a3a);border-top:1px solid #c81010;border-right:1px solid #d02020"></div>
<div class="abs" style="left:6px;top:65px;width:109px;height:40px;background:linear-gradient(#e03434,#cc1c1c 45%,#b00000);border-left:1px solid #c01010;border-right:1px solid #b00808;border-bottom:1px solid #a00000"></div>
<div class="abs" style="left:117px;top:65px;width:108px;height:40px;background:linear-gradient(#e03434,#cc1c1c 45%,#b00000);border-left:1px solid #c01010;border-right:1px solid #b00808;border-bottom:1px solid #a00000"></div>
<div class="abs" style="left:58px;top:65px;width:57px;height:1px;background:#c00808"></div>
<div class="abs" style="left:117px;top:65px;width:56px;height:1px;background:#c00808"></div>
<div class="abs" style="left:10px;top:64px;width:44px;height:1px;background:#8c0000"></div><div class="abs" style="left:10px;top:65px;width:44px;height:1px;background:#f07070"></div>
<div class="abs" style="left:177px;top:64px;width:44px;height:1px;background:#8c0000"></div><div class="abs" style="left:177px;top:65px;width:44px;height:1px;background:#f07070"></div>
<div class="abs" style="left:60px;top:41px;width:111px;height:22px;background:#fff;border:1px solid #b2b2b2"></div>
<div class="abs" style="left:61px;top:42px;width:20px;height:20px;background:linear-gradient(#f0f0f0,#e6e6e6 50%,#dcdcdc 50%,#d2d2d2);border:1px solid #f4f4f4"></div>
<div class="abs" style="left:150px;top:42px;width:20px;height:20px;background:linear-gradient(#f0f0f0,#e6e6e6 50%,#dcdcdc 50%,#d2d2d2);border:1px solid #f4f4f4"></div>
<div class="abs" style="left:81px;top:42px;width:1px;height:20px;background:#b2b2b2"></div>
<div class="abs" style="left:149px;top:42px;width:1px;height:20px;background:#b2b2b2"></div>
<svg class="abs" style="left:0;top:0" width="240" height="110" shape-rendering="crispEdges"><g fill="#5565c8"><rect x="68" y="50" width="5" height="1"/><rect x="69" y="51" width="3" height="1"/><rect x="70" y="52" width="1" height="1"/><rect x="159" y="50" width="1" height="1"/><rect x="158" y="51" width="3" height="1"/><rect x="157" y="52" width="5" height="1"/></g><path d="M6 32 L13 32 L9.5 27.8 Z" fill="#000" shape-rendering="auto"/></svg>
<div class="t" style="left:122.5px;top:45.5px;font-size:12px;color:#000;transform:scaleX(1.0);transform-origin:0 0;">1.00</div>
<div class="t" style="left:17.6px;top:47.2px;font-size:12px;color:#fff;transform:scaleX(0.92);transform-origin:0 0;">SELL</div>
<div class="t" style="left:185.6px;top:47px;font-size:12px;color:#fff;transform:scaleX(1.05);transform-origin:0 0;">BUY</div>
<div class="t" style="left:25.6px;top:86.2px;font-size:11px;color:#fff;font-weight:bold;transform:scaleX(1.13);transform-origin:0 0;">1.32</div>
<div class="t" style="left:135.8px;top:86.2px;font-size:11px;color:#fff;font-weight:bold;transform:scaleX(1.13);transform-origin:0 0;">1.32</div>
<div class="t" style="left:51px;top:66.3px;font-size:34px;color:#fff;transform:scaleX(1.0);transform-origin:0 0;-webkit-text-stroke:0.7px #cf2020;">47</div>
<div class="t" style="left:162.4px;top:66.3px;font-size:34px;color:#fff;transform:scaleX(1.0);transform-origin:0 0;-webkit-text-stroke:0.7px #cf2020;">49</div>
<div class="t" style="left:92.6px;top:71.4px;font-size:10.5px;color:#fff;font-weight:bold;transform:scaleX(1.3);transform-origin:0 0;">2</div>
<div class="t" style="left:203.6px;top:70.6px;font-size:10.5px;color:#fff;font-weight:bold;transform:scaleX(1.3);transform-origin:0 0;">5</div>
<div class="t k" style="left:17.6px;top:26px;font-size:10px;color:#000;transform:scaleX(0.985);transform-origin:0 0;">USDCAD-,Daily</div>
<div class="t k" style="left:92.8px;top:26px;font-size:10px;color:#000;transform:scaleX(0.9);transform-origin:0 0;">1.32401</div>
<div class="t k" style="left:128.7px;top:26px;font-size:10px;color:#000;transform:scaleX(0.9);transform-origin:0 0;">1.32485</div>
<div class="t k" style="left:164.6px;top:26px;font-size:10px;color:#000;transform:scaleX(0.9);transform-origin:0 0;">1.32387</div>
<div class="t k" style="left:200.5px;top:26px;font-size:10px;color:#000;transform:scaleX(0.9);transform-origin:0 0;">1.32472</div>
<div class="t k" style="left:1424.3px;top:26px;font-size:10px;color:#000;transform:scaleX(0.9);transform-origin:0 0;">1.36900</div>
<div class="t k" style="left:1424.3px;top:59px;font-size:10px;color:#000;transform:scaleX(0.9);transform-origin:0 0;">1.36440</div>
<div class="t k" style="left:1424.3px;top:92px;font-size:10px;color:#000;transform:scaleX(0.9);transform-origin:0 0;">1.35980</div>
<div class="t k" style="left:1424.3px;top:125px;font-size:10px;color:#000;transform:scaleX(0.9);transform-origin:0 0;">1.35520</div>
<div class="t k" style="left:1424.3px;top:158px;font-size:10px;color:#000;transform:scaleX(0.9);transform-origin:0 0;">1.35060</div>
<div class="t k" style="left:1424.3px;top:191px;font-size:10px;color:#000;transform:scaleX(0.9);transform-origin:0 0;">1.34600</div>
<div class="t k" style="left:1424.3px;top:224px;font-size:10px;color:#000;transform:scaleX(0.9);transform-origin:0 0;">1.34140</div>
<div class="t k" style="left:1424.3px;top:257px;font-size:10px;color:#000;transform:scaleX(0.9);transform-origin:0 0;">1.33680</div>
<div class="t k" style="left:1424.3px;top:290px;font-size:10px;color:#000;transform:scaleX(0.9);transform-origin:0 0;">1.33220</div>
<div class="t k" style="left:1424.3px;top:323px;font-size:10px;color:#000;transform:scaleX(0.9);transform-origin:0 0;">1.32760</div>
<div class="t k" style="left:1424.3px;top:356px;font-size:10px;color:#000;transform:scaleX(0.9);transform-origin:0 0;">1.32300</div>
<div class="t k" style="left:1424.3px;top:422px;font-size:10px;color:#000;transform:scaleX(0.9);transform-origin:0 0;">1.31380</div>
<div class="t k" style="left:1424.3px;top:455px;font-size:10px;color:#000;transform:scaleX(0.9);transform-origin:0 0;">1.30920</div>
<div class="t k" style="left:1424.3px;top:488px;font-size:10px;color:#000;transform:scaleX(0.9);transform-origin:0 0;">1.30460</div>
<div class="t k" style="left:1424.3px;top:554px;font-size:10px;color:#000;transform:scaleX(0.9);transform-origin:0 0;">1.29540</div>
<div class="t k" style="left:1424.3px;top:43px;font-size:10px;color:#fff;transform:scaleX(0.9);transform-origin:0 0;">1.36645</div>
<div class="t k" style="left:1424.3px;top:144px;font-size:10px;color:#fff;transform:scaleX(0.9);transform-origin:0 0;">1.35237</div>
<div class="t k" style="left:1424.3px;top:273px;font-size:10px;color:#fff;transform:scaleX(0.9);transform-origin:0 0;">1.33439</div>
<div class="t k" style="left:1424.3px;top:391px;font-size:10px;color:#fff;transform:scaleX(0.9);transform-origin:0 0;">1.31806</div>
<div class="t k" style="left:1424.3px;top:520px;font-size:10px;color:#fff;transform:scaleX(0.9);transform-origin:0 0;">1.30004</div>
<div class="t k" style="left:1424.3px;top:344px;font-size:10px;color:#fff;transform:scaleX(0.9);transform-origin:0 0;">1.32472</div>
<div class="t k" style="left:2px;top:803px;font-size:10px;color:#000;transform:scaleX(0.925);transform-origin:0 0;">23 Oct 2018</div>
<div class="t k" style="left:66px;top:803px;font-size:10px;color:#000;transform:scaleX(0.925);transform-origin:0 0;">11 Nov 2018</div>
<div class="t k" style="left:130px;top:803px;font-size:10px;color:#000;transform:scaleX(0.925);transform-origin:0 0;">29 Nov 2018</div>
<div class="t k" style="left:194px;top:803px;font-size:10px;color:#000;transform:scaleX(0.925);transform-origin:0 0;">18 Dec 2018</div>
<div class="t k" style="left:258px;top:803px;font-size:10px;color:#000;transform:scaleX(0.925);transform-origin:0 0;">6 Jan 2019</div>
<div class="t k" style="left:322px;top:803px;font-size:10px;color:#000;transform:scaleX(0.925);transform-origin:0 0;">24 Jan 2019</div>
<div class="t k" style="left:386px;top:803px;font-size:10px;color:#000;transform:scaleX(0.925);transform-origin:0 0;">12 Feb 2019</div>
<div class="t k" style="left:450px;top:803px;font-size:10px;color:#000;transform:scaleX(0.925);transform-origin:0 0;">3 Mar 2019</div>
<div class="t k" style="left:514px;top:803px;font-size:10px;color:#000;transform:scaleX(0.925);transform-origin:0 0;">21 Mar 2019</div>
<div class="t k" style="left:578px;top:803px;font-size:10px;color:#000;transform:scaleX(0.925);transform-origin:0 0;">9 Apr 2019</div>
<div class="t k" style="left:642px;top:803px;font-size:10px;color:#000;transform:scaleX(0.925);transform-origin:0 0;">29 Apr 2019</div>
<div class="t k" style="left:706px;top:803px;font-size:10px;color:#000;transform:scaleX(0.925);transform-origin:0 0;">17 May 2019</div>
<div class="t k" style="left:770px;top:803px;font-size:10px;color:#000;transform:scaleX(0.925);transform-origin:0 0;">5 Jun 2019</div>
<div class="t k" style="left:834px;top:803px;font-size:10px;color:#000;transform:scaleX(0.925);transform-origin:0 0;">24 Jun 2019</div>
<div class="t k" style="left:898px;top:803px;font-size:10px;color:#000;transform:scaleX(0.925);transform-origin:0 0;">12 Jul 2019</div>
<div class="t k" style="left:962px;top:803px;font-size:10px;color:#000;transform:scaleX(0.925);transform-origin:0 0;">31 Jul 2019</div>
<div class="t k" style="left:1026px;top:803px;font-size:10px;color:#000;transform:scaleX(0.925);transform-origin:0 0;">19 Aug 2019</div>
<div class="t k" style="left:1090px;top:803px;font-size:10px;color:#000;transform:scaleX(0.925);transform-origin:0 0;">6 Sep 2019</div>
<div class="t k" style="left:7px;top:568px;font-size:10px;color:#000;transform:scaleX(0.928);transform-origin:0 0;">MACD(12,26,9) -0.000735 -0.001207</div>
<div class="t k" style="left:7px;top:673px;font-size:10px;color:#000;transform:scaleX(0.914);transform-origin:0 0;">RSI(14) 51.1577</div>
<div class="t k" style="left:1421.7px;top:566px;font-size:10px;color:#000;transform:scaleX(0.9);transform-origin:0 0;">0.010311</div>
<div class="t k" style="left:1421.7px;top:614px;font-size:10px;color:#000;transform:scaleX(0.9);transform-origin:0 0;">0.00</div>
<div class="t k" style="left:1421.7px;top:655px;font-size:10px;color:#000;transform:scaleX(0.9);transform-origin:0 0;">-0.009203</div>
<div class="t k" style="left:1421.7px;top:671px;font-size:10px;color:#000;transform:scaleX(0.9);transform-origin:0 0;">100</div>
<div class="t k" style="left:1421.2px;top:704px;font-size:10px;color:#000;transform:scaleX(0.9);transform-origin:0 0;">70</div>
<div class="t k" style="left:1421.2px;top:755px;font-size:10px;color:#000;transform:scaleX(0.9);transform-origin:0 0;">30</div>
<div class="t k" style="left:1421.7px;top:787px;font-size:10px;color:#000;transform:scaleX(0.9);transform-origin:0 0;">0</div>
<div class="abs" style="left:0;top:818px;width:1461px;height:1px;background:#e2e2e2"></div>
<div class="abs" style="left:0;top:820px;width:1461px;height:1px;background:#000"></div>
<div class="abs" style="left:0;top:821px;width:1461px;height:1px;background:#fff"></div>
<div class="abs" style="left:0;top:822px;width:1461px;height:18px;background:#f0f0f0"></div>
<div class="abs" style="left:328px;top:819px;width:108px;height:20px;background:#fff;border:1px solid #000;border-top:none"></div>
<div class="abs" style="left:327px;top:821px;width:1px;height:18px;background:#fff"></div>
<div class="abs" style="left:329px;top:839px;width:108px;height:1px;background:#a8a8a8"></div>
<div class="abs" style="left:436px;top:822px;width:1px;height:18px;background:#a8a8a8"></div>
<div class="t" style="left:14.9px;top:825.1px;font-size:12px;color:#6a6a6a;transform:scaleX(1.018);transform-origin:0 0">EURUSD-,Daily</div>
<div class="t" style="left:121.7px;top:825.1px;font-size:12px;color:#6a6a6a;transform:scaleX(1.049);transform-origin:0 0">AUDUSD-,Daily</div>
<div class="t" style="left:232.1px;top:825.1px;font-size:12px;color:#6a6a6a;transform:scaleX(1.017);transform-origin:0 0">USDCHF-,Daily</div>
<div class="t" style="left:339.5px;top:825.1px;font-size:12px;color:#000;transform:scaleX(1.020);transform-origin:0 0">USDCAD-,Daily</div>
<div class="t" style="left:447.7px;top:825.1px;font-size:12px;color:#6a6a6a;transform:scaleX(1.048);transform-origin:0 0">USDCNH-,Daily</div>
<div class="t" style="left:558.6px;top:825.1px;font-size:12px;color:#6a6a6a;transform:scaleX(1.023);transform-origin:0 0">EURCHF-,Weekly</div>
<div class="t" style="left:679.1px;top:825.1px;font-size:12px;color:#6a6a6a;transform:scaleX(1.038);transform-origin:0 0">XAUUSD-,Daily</div>
<div class="t" style="left:786.9px;top:825.1px;font-size:12px;color:#6a6a6a;transform:scaleX(1.002);transform-origin:0 0">GBPUSD-,H1</div>
<div class="t" style="left:882.9px;top:825.1px;font-size:12px;color:#6a6a6a;transform:scaleX(1.070);transform-origin:0 0">UKOil-,H1</div>
<div class="t" style="left:962.2px;top:825.1px;font-size:12px;color:#6a6a6a;transform:scaleX(1.051);transform-origin:0 0">USDX-,Weekly</div>
<div class="t" style="left:1066.9px;top:825.1px;font-size:12px;color:#6a6a6a;transform:scaleX(1.015);transform-origin:0 0">EURCHF-,Weekly</div>
<div class="abs" style="left:112px;top:823px;width:1px;height:14px;background:#7a7a7a"></div>
<div class="abs" style="left:220px;top:823px;width:1px;height:14px;background:#7a7a7a"></div>
<div class="abs" style="left:548px;top:823px;width:1px;height:14px;background:#7a7a7a"></div>
<div class="abs" style="left:669px;top:823px;width:1px;height:14px;background:#7a7a7a"></div>
<div class="abs" style="left:776px;top:823px;width:1px;height:14px;background:#7a7a7a"></div>
<div class="abs" style="left:872px;top:823px;width:1px;height:14px;background:#7a7a7a"></div>
<div class="abs" style="left:952px;top:823px;width:1px;height:14px;background:#7a7a7a"></div>
<div class="abs" style="left:1057px;top:823px;width:1px;height:14px;background:#7a7a7a"></div>
<div class="abs" style="left:1177px;top:823px;width:1px;height:14px;background:#7a7a7a"></div>
<svg class="abs" style="left:1425px;top:820px" width="36" height="20"><path d="M13 5.5 L13 12.5 L9 9 Z" fill="#8a8a8a"/><path d="M28 5.5 L28 12.5 L32 9 Z" fill="#8a8a8a"/></svg>
</div></body></html>
